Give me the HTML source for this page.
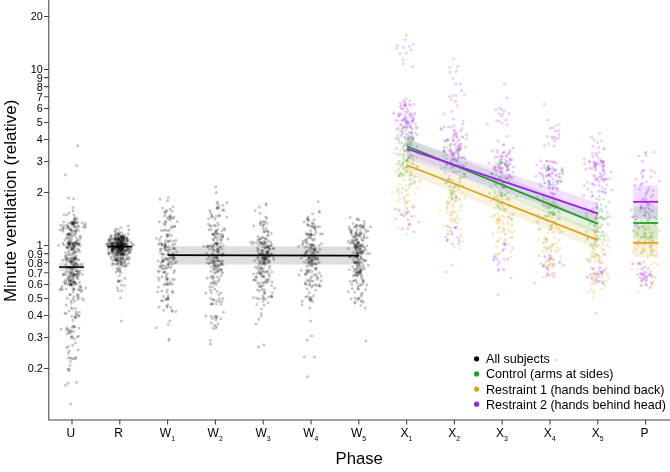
<!DOCTYPE html>
<html><head><meta charset="utf-8"><title>Minute ventilation by phase</title>
<style>
html,body{margin:0;padding:0;background:#fff}
svg{display:block;font-family:"Liberation Sans",Arial,Helvetica,sans-serif;fill:#000}
</style></head>
<body>
<svg width="670" height="472" viewBox="0 0 670 472">
<rect width="670" height="472" fill="#fff"/>
<defs><filter id="b" x="-5%" y="-5%" width="110%" height="110%"><feGaussianBlur stdDeviation="0.4"/></filter></defs>
<g filter="url(#b)">
<g fill="#000" fill-opacity="0.17" stroke="#000" stroke-opacity="0.2" stroke-width="0.6">
<circle cx="123.5" cy="247.2" r="1.2"/><circle cx="214.4" cy="325.2" r="1.2"/><circle cx="264.0" cy="223.7" r="1.2"/><circle cx="262.7" cy="226.0" r="1.2"/><circle cx="311.7" cy="336.0" r="1.2"/><circle cx="258.4" cy="253.1" r="1.2"/><circle cx="267.7" cy="231.5" r="1.2"/><circle cx="74.9" cy="222.7" r="1.2"/><circle cx="256.8" cy="298.2" r="1.2"/><circle cx="261.3" cy="313.4" r="1.2"/><circle cx="120.3" cy="246.4" r="1.2"/><circle cx="310.6" cy="233.8" r="1.2"/><circle cx="78.9" cy="243.9" r="1.2"/><circle cx="167.4" cy="230.7" r="1.2"/><circle cx="307.0" cy="243.0" r="1.2"/><circle cx="213.1" cy="234.3" r="1.2"/><circle cx="302.5" cy="244.7" r="1.2"/><circle cx="219.4" cy="237.3" r="1.2"/><circle cx="359.3" cy="267.6" r="1.2"/><circle cx="360.8" cy="269.0" r="1.2"/><circle cx="72.9" cy="275.5" r="1.2"/><circle cx="168.8" cy="241.3" r="1.2"/><circle cx="258.0" cy="236.7" r="1.2"/><circle cx="176.4" cy="262.0" r="1.2"/><circle cx="312.5" cy="213.8" r="1.2"/><circle cx="216.9" cy="203.4" r="1.2"/><circle cx="354.7" cy="236.7" r="1.2"/><circle cx="262.9" cy="282.5" r="1.2"/><circle cx="221.1" cy="269.1" r="1.2"/><circle cx="163.7" cy="310.3" r="1.2"/><circle cx="265.7" cy="272.0" r="1.2"/><circle cx="358.7" cy="265.5" r="1.2"/><circle cx="263.4" cy="268.4" r="1.2"/><circle cx="270.0" cy="249.2" r="1.2"/><circle cx="313.6" cy="295.7" r="1.2"/><circle cx="130.8" cy="242.3" r="1.2"/><circle cx="310.1" cy="251.2" r="1.2"/><circle cx="305.4" cy="255.5" r="1.2"/><circle cx="75.1" cy="258.9" r="1.2"/><circle cx="364.7" cy="248.4" r="1.2"/><circle cx="119.8" cy="248.5" r="1.2"/><circle cx="262.9" cy="296.0" r="1.2"/><circle cx="265.2" cy="258.9" r="1.2"/><circle cx="309.0" cy="258.9" r="1.2"/><circle cx="162.3" cy="265.5" r="1.2"/><circle cx="221.3" cy="264.1" r="1.2"/><circle cx="66.2" cy="305.0" r="1.2"/><circle cx="307.1" cy="288.9" r="1.2"/><circle cx="262.5" cy="237.2" r="1.2"/><circle cx="212.3" cy="246.5" r="1.2"/><circle cx="305.5" cy="274.7" r="1.2"/><circle cx="308.7" cy="220.8" r="1.2"/><circle cx="363.1" cy="227.0" r="1.2"/><circle cx="314.1" cy="249.9" r="1.2"/><circle cx="121.4" cy="237.3" r="1.2"/><circle cx="115.8" cy="229.0" r="1.2"/><circle cx="215.5" cy="231.2" r="1.2"/><circle cx="68.9" cy="234.0" r="1.2"/><circle cx="71.2" cy="330.4" r="1.2"/><circle cx="167.6" cy="235.8" r="1.2"/><circle cx="122.5" cy="237.2" r="1.2"/><circle cx="124.7" cy="235.2" r="1.2"/><circle cx="318.2" cy="201.6" r="1.2"/><circle cx="67.2" cy="333.9" r="1.2"/><circle cx="121.8" cy="250.6" r="1.2"/><circle cx="316.7" cy="276.7" r="1.2"/><circle cx="215.4" cy="233.0" r="1.2"/><circle cx="70.3" cy="357.9" r="1.2"/><circle cx="113.1" cy="248.5" r="1.2"/><circle cx="78.9" cy="259.9" r="1.2"/><circle cx="360.8" cy="305.6" r="1.2"/><circle cx="73.0" cy="207.6" r="1.2"/><circle cx="75.4" cy="308.3" r="1.2"/><circle cx="316.5" cy="285.4" r="1.2"/><circle cx="121.8" cy="252.1" r="1.2"/><circle cx="223.4" cy="312.2" r="1.2"/><circle cx="108.8" cy="246.8" r="1.2"/><circle cx="359.7" cy="244.8" r="1.2"/><circle cx="312.8" cy="260.7" r="1.2"/><circle cx="167.9" cy="298.3" r="1.2"/><circle cx="216.3" cy="268.3" r="1.2"/><circle cx="70.8" cy="235.3" r="1.2"/><circle cx="119.9" cy="240.2" r="1.2"/><circle cx="62.9" cy="243.2" r="1.2"/><circle cx="311.3" cy="259.8" r="1.2"/><circle cx="71.1" cy="331.6" r="1.2"/><circle cx="123.9" cy="238.8" r="1.2"/><circle cx="114.5" cy="235.1" r="1.2"/><circle cx="355.3" cy="302.1" r="1.2"/><circle cx="362.3" cy="259.1" r="1.2"/><circle cx="265.0" cy="221.5" r="1.2"/><circle cx="79.3" cy="242.8" r="1.2"/><circle cx="64.9" cy="313.1" r="1.2"/><circle cx="263.4" cy="261.4" r="1.2"/><circle cx="124.6" cy="248.4" r="1.2"/><circle cx="268.9" cy="261.1" r="1.2"/><circle cx="266.3" cy="231.1" r="1.2"/><circle cx="78.5" cy="336.0" r="1.2"/><circle cx="157.7" cy="291.9" r="1.2"/><circle cx="267.6" cy="235.0" r="1.2"/><circle cx="71.7" cy="336.5" r="1.2"/><circle cx="111.0" cy="242.0" r="1.2"/><circle cx="73.5" cy="260.1" r="1.2"/><circle cx="70.0" cy="242.5" r="1.2"/><circle cx="358.6" cy="242.1" r="1.2"/><circle cx="115.4" cy="241.8" r="1.2"/><circle cx="309.5" cy="265.8" r="1.2"/><circle cx="215.7" cy="266.2" r="1.2"/><circle cx="272.4" cy="292.7" r="1.2"/><circle cx="357.5" cy="235.9" r="1.2"/><circle cx="173.9" cy="248.1" r="1.2"/><circle cx="303.3" cy="241.0" r="1.2"/><circle cx="67.4" cy="234.1" r="1.2"/><circle cx="122.3" cy="248.3" r="1.2"/><circle cx="263.4" cy="258.7" r="1.2"/><circle cx="221.9" cy="264.2" r="1.2"/><circle cx="359.0" cy="235.6" r="1.2"/><circle cx="213.6" cy="239.6" r="1.2"/><circle cx="158.9" cy="280.0" r="1.2"/><circle cx="75.6" cy="342.9" r="1.2"/><circle cx="167.3" cy="237.0" r="1.2"/><circle cx="367.3" cy="237.6" r="1.2"/><circle cx="71.2" cy="268.3" r="1.2"/><circle cx="66.6" cy="271.8" r="1.2"/><circle cx="360.4" cy="249.6" r="1.2"/><circle cx="70.3" cy="294.4" r="1.2"/><circle cx="260.9" cy="242.6" r="1.2"/><circle cx="362.9" cy="280.1" r="1.2"/><circle cx="68.8" cy="250.7" r="1.2"/><circle cx="215.0" cy="258.2" r="1.2"/><circle cx="213.3" cy="234.1" r="1.2"/><circle cx="111.9" cy="249.9" r="1.2"/><circle cx="348.2" cy="291.6" r="1.2"/><circle cx="171.1" cy="217.9" r="1.2"/><circle cx="118.5" cy="239.0" r="1.2"/><circle cx="127.6" cy="249.1" r="1.2"/><circle cx="117.4" cy="233.4" r="1.2"/><circle cx="259.0" cy="299.0" r="1.2"/><circle cx="77.0" cy="278.0" r="1.2"/><circle cx="74.1" cy="289.6" r="1.2"/><circle cx="121.6" cy="247.9" r="1.2"/><circle cx="355.7" cy="234.1" r="1.2"/><circle cx="308.9" cy="262.2" r="1.2"/><circle cx="74.4" cy="223.0" r="1.2"/><circle cx="215.9" cy="284.4" r="1.2"/><circle cx="126.8" cy="258.5" r="1.2"/><circle cx="118.7" cy="238.6" r="1.2"/><circle cx="315.6" cy="290.3" r="1.2"/><circle cx="258.8" cy="262.8" r="1.2"/><circle cx="303.1" cy="243.2" r="1.2"/><circle cx="69.1" cy="330.7" r="1.2"/><circle cx="174.5" cy="270.5" r="1.2"/><circle cx="317.2" cy="279.5" r="1.2"/><circle cx="311.8" cy="260.2" r="1.2"/><circle cx="266.7" cy="218.2" r="1.2"/><circle cx="167.9" cy="250.7" r="1.2"/><circle cx="350.1" cy="243.2" r="1.2"/><circle cx="77.3" cy="337.1" r="1.2"/><circle cx="355.5" cy="274.9" r="1.2"/><circle cx="361.7" cy="262.8" r="1.2"/><circle cx="63.9" cy="245.0" r="1.2"/><circle cx="130.9" cy="248.8" r="1.2"/><circle cx="256.1" cy="280.5" r="1.2"/><circle cx="72.9" cy="278.4" r="1.2"/><circle cx="317.0" cy="263.7" r="1.2"/><circle cx="113.7" cy="243.3" r="1.2"/><circle cx="314.6" cy="249.8" r="1.2"/><circle cx="267.2" cy="270.9" r="1.2"/><circle cx="262.1" cy="289.6" r="1.2"/><circle cx="76.8" cy="283.7" r="1.2"/><circle cx="124.6" cy="250.3" r="1.2"/><circle cx="314.5" cy="357.0" r="1.2"/><circle cx="72.8" cy="244.2" r="1.2"/><circle cx="118.1" cy="249.7" r="1.2"/><circle cx="314.2" cy="227.2" r="1.2"/><circle cx="71.0" cy="271.6" r="1.2"/><circle cx="121.5" cy="239.9" r="1.2"/><circle cx="72.4" cy="257.6" r="1.2"/><circle cx="355.1" cy="244.9" r="1.2"/><circle cx="73.0" cy="211.0" r="1.2"/><circle cx="207.7" cy="263.0" r="1.2"/><circle cx="116.4" cy="255.2" r="1.2"/><circle cx="361.4" cy="285.0" r="1.2"/><circle cx="217.0" cy="234.0" r="1.2"/><circle cx="110.1" cy="240.6" r="1.2"/><circle cx="78.1" cy="278.7" r="1.2"/><circle cx="212.8" cy="283.0" r="1.2"/><circle cx="361.8" cy="228.0" r="1.2"/><circle cx="313.8" cy="245.1" r="1.2"/><circle cx="216.3" cy="237.3" r="1.2"/><circle cx="216.2" cy="230.5" r="1.2"/><circle cx="162.0" cy="276.9" r="1.2"/><circle cx="74.7" cy="225.8" r="1.2"/><circle cx="69.2" cy="276.2" r="1.2"/><circle cx="124.4" cy="262.4" r="1.2"/><circle cx="127.6" cy="249.8" r="1.2"/><circle cx="108.8" cy="241.5" r="1.2"/><circle cx="213.8" cy="262.6" r="1.2"/><circle cx="304.5" cy="262.3" r="1.2"/><circle cx="352.3" cy="288.8" r="1.2"/><circle cx="357.3" cy="254.1" r="1.2"/><circle cx="164.1" cy="284.9" r="1.2"/><circle cx="217.4" cy="239.7" r="1.2"/><circle cx="120.7" cy="242.7" r="1.2"/><circle cx="73.4" cy="245.5" r="1.2"/><circle cx="311.8" cy="271.7" r="1.2"/><circle cx="164.7" cy="265.8" r="1.2"/><circle cx="315.5" cy="248.7" r="1.2"/><circle cx="264.9" cy="242.1" r="1.2"/><circle cx="118.8" cy="247.7" r="1.2"/><circle cx="356.1" cy="249.4" r="1.2"/><circle cx="73.5" cy="277.6" r="1.2"/><circle cx="319.1" cy="245.6" r="1.2"/><circle cx="363.7" cy="251.1" r="1.2"/><circle cx="354.4" cy="271.6" r="1.2"/><circle cx="122.2" cy="244.6" r="1.2"/><circle cx="120.5" cy="238.8" r="1.2"/><circle cx="365.7" cy="249.9" r="1.2"/><circle cx="70.9" cy="274.8" r="1.2"/><circle cx="360.2" cy="271.8" r="1.2"/><circle cx="166.2" cy="210.8" r="1.2"/><circle cx="68.4" cy="346.6" r="1.2"/><circle cx="72.4" cy="236.4" r="1.2"/><circle cx="172.5" cy="279.6" r="1.2"/><circle cx="74.3" cy="301.2" r="1.2"/><circle cx="354.8" cy="303.0" r="1.2"/><circle cx="212.4" cy="217.3" r="1.2"/><circle cx="113.7" cy="244.4" r="1.2"/><circle cx="72.6" cy="258.0" r="1.2"/><circle cx="76.6" cy="276.6" r="1.2"/><circle cx="306.0" cy="242.0" r="1.2"/><circle cx="123.8" cy="237.0" r="1.2"/><circle cx="213.5" cy="300.0" r="1.2"/><circle cx="216.5" cy="326.5" r="1.2"/><circle cx="216.6" cy="256.9" r="1.2"/><circle cx="109.1" cy="239.9" r="1.2"/><circle cx="82.2" cy="298.6" r="1.2"/><circle cx="172.0" cy="211.3" r="1.2"/><circle cx="117.4" cy="256.2" r="1.2"/><circle cx="121.0" cy="237.3" r="1.2"/><circle cx="75.8" cy="244.6" r="1.2"/><circle cx="319.4" cy="272.9" r="1.2"/><circle cx="165.8" cy="258.1" r="1.2"/><circle cx="357.1" cy="255.4" r="1.2"/><circle cx="165.7" cy="298.8" r="1.2"/><circle cx="69.8" cy="294.8" r="1.2"/><circle cx="69.1" cy="227.6" r="1.2"/><circle cx="112.6" cy="246.0" r="1.2"/><circle cx="161.3" cy="263.4" r="1.2"/><circle cx="75.7" cy="232.5" r="1.2"/><circle cx="270.2" cy="246.4" r="1.2"/><circle cx="112.2" cy="251.5" r="1.2"/><circle cx="121.4" cy="245.8" r="1.2"/><circle cx="85.7" cy="288.0" r="1.2"/><circle cx="262.0" cy="257.9" r="1.2"/><circle cx="114.3" cy="245.7" r="1.2"/><circle cx="319.0" cy="286.1" r="1.2"/><circle cx="205.9" cy="315.8" r="1.2"/><circle cx="121.0" cy="251.7" r="1.2"/><circle cx="76.5" cy="271.0" r="1.2"/><circle cx="123.1" cy="247.1" r="1.2"/><circle cx="213.6" cy="277.2" r="1.2"/><circle cx="355.6" cy="246.8" r="1.2"/><circle cx="120.7" cy="236.9" r="1.2"/><circle cx="165.3" cy="229.9" r="1.2"/><circle cx="126.9" cy="244.8" r="1.2"/><circle cx="82.4" cy="274.5" r="1.2"/><circle cx="260.2" cy="262.8" r="1.2"/><circle cx="321.1" cy="276.1" r="1.2"/><circle cx="211.2" cy="229.6" r="1.2"/><circle cx="365.4" cy="308.0" r="1.2"/><circle cx="168.1" cy="299.1" r="1.2"/><circle cx="168.2" cy="241.6" r="1.2"/><circle cx="172.3" cy="284.1" r="1.2"/><circle cx="119.9" cy="252.8" r="1.2"/><circle cx="110.4" cy="236.8" r="1.2"/><circle cx="66.8" cy="214.9" r="1.2"/><circle cx="170.9" cy="267.7" r="1.2"/><circle cx="307.8" cy="296.5" r="1.2"/><circle cx="253.5" cy="242.2" r="1.2"/><circle cx="309.8" cy="307.9" r="1.2"/><circle cx="264.2" cy="289.5" r="1.2"/><circle cx="117.5" cy="288.0" r="1.2"/><circle cx="64.9" cy="240.0" r="1.2"/><circle cx="353.1" cy="281.3" r="1.2"/><circle cx="75.4" cy="234.2" r="1.2"/><circle cx="260.8" cy="242.8" r="1.2"/><circle cx="119.2" cy="243.5" r="1.2"/><circle cx="69.1" cy="234.6" r="1.2"/><circle cx="125.9" cy="247.0" r="1.2"/><circle cx="220.5" cy="234.2" r="1.2"/><circle cx="213.3" cy="254.6" r="1.2"/><circle cx="216.7" cy="243.6" r="1.2"/><circle cx="221.0" cy="292.9" r="1.2"/><circle cx="359.8" cy="248.3" r="1.2"/><circle cx="71.5" cy="230.3" r="1.2"/><circle cx="321.2" cy="280.9" r="1.2"/><circle cx="206.7" cy="253.5" r="1.2"/><circle cx="260.5" cy="221.8" r="1.2"/><circle cx="66.7" cy="261.4" r="1.2"/><circle cx="350.1" cy="281.6" r="1.2"/><circle cx="119.5" cy="250.5" r="1.2"/><circle cx="73.3" cy="243.4" r="1.2"/><circle cx="214.6" cy="316.5" r="1.2"/><circle cx="117.6" cy="270.5" r="1.2"/><circle cx="169.5" cy="249.4" r="1.2"/><circle cx="217.4" cy="276.9" r="1.2"/><circle cx="358.3" cy="289.2" r="1.2"/><circle cx="210.2" cy="212.7" r="1.2"/><circle cx="354.9" cy="236.4" r="1.2"/><circle cx="164.8" cy="245.1" r="1.2"/><circle cx="359.2" cy="273.9" r="1.2"/><circle cx="212.8" cy="247.9" r="1.2"/><circle cx="119.6" cy="254.1" r="1.2"/><circle cx="118.0" cy="239.5" r="1.2"/><circle cx="122.9" cy="264.3" r="1.2"/><circle cx="360.4" cy="249.6" r="1.2"/><circle cx="77.1" cy="264.6" r="1.2"/><circle cx="360.3" cy="233.4" r="1.2"/><circle cx="73.9" cy="274.8" r="1.2"/><circle cx="174.1" cy="217.1" r="1.2"/><circle cx="320.0" cy="249.4" r="1.2"/><circle cx="160.0" cy="199.3" r="1.2"/><circle cx="307.4" cy="280.2" r="1.2"/><circle cx="352.7" cy="267.0" r="1.2"/><circle cx="354.4" cy="240.7" r="1.2"/><circle cx="122.1" cy="249.0" r="1.2"/><circle cx="168.7" cy="254.0" r="1.2"/><circle cx="216.1" cy="264.5" r="1.2"/><circle cx="122.0" cy="237.4" r="1.2"/><circle cx="269.7" cy="255.5" r="1.2"/><circle cx="266.2" cy="247.1" r="1.2"/><circle cx="360.7" cy="237.2" r="1.2"/><circle cx="69.9" cy="237.3" r="1.2"/><circle cx="349.5" cy="229.3" r="1.2"/><circle cx="120.6" cy="263.2" r="1.2"/><circle cx="365.5" cy="289.7" r="1.2"/><circle cx="168.1" cy="297.5" r="1.2"/><circle cx="163.2" cy="296.5" r="1.2"/><circle cx="356.9" cy="282.8" r="1.2"/><circle cx="315.6" cy="257.0" r="1.2"/><circle cx="223.1" cy="205.2" r="1.2"/><circle cx="356.1" cy="235.0" r="1.2"/><circle cx="259.2" cy="273.0" r="1.2"/><circle cx="220.7" cy="243.2" r="1.2"/><circle cx="68.8" cy="243.8" r="1.2"/><circle cx="128.1" cy="247.4" r="1.2"/><circle cx="76.0" cy="259.0" r="1.2"/><circle cx="114.8" cy="250.0" r="1.2"/><circle cx="219.3" cy="278.9" r="1.2"/><circle cx="209.9" cy="225.8" r="1.2"/><circle cx="314.8" cy="259.4" r="1.2"/><circle cx="314.3" cy="224.6" r="1.2"/><circle cx="73.9" cy="265.3" r="1.2"/><circle cx="305.8" cy="253.1" r="1.2"/><circle cx="314.2" cy="219.7" r="1.2"/><circle cx="126.7" cy="241.0" r="1.2"/><circle cx="258.5" cy="249.5" r="1.2"/><circle cx="360.7" cy="272.9" r="1.2"/><circle cx="123.2" cy="236.8" r="1.2"/><circle cx="314.6" cy="248.8" r="1.2"/><circle cx="71.9" cy="247.6" r="1.2"/><circle cx="263.8" cy="231.8" r="1.2"/><circle cx="298.7" cy="246.2" r="1.2"/><circle cx="306.5" cy="273.2" r="1.2"/><circle cx="125.9" cy="250.7" r="1.2"/><circle cx="218.1" cy="253.5" r="1.2"/><circle cx="113.4" cy="248.8" r="1.2"/><circle cx="73.4" cy="222.0" r="1.2"/><circle cx="165.9" cy="268.4" r="1.2"/><circle cx="349.6" cy="257.2" r="1.2"/><circle cx="357.0" cy="257.5" r="1.2"/><circle cx="261.6" cy="263.6" r="1.2"/><circle cx="68.9" cy="241.4" r="1.2"/><circle cx="121.2" cy="243.9" r="1.2"/><circle cx="223.3" cy="245.4" r="1.2"/><circle cx="314.3" cy="274.7" r="1.2"/><circle cx="81.9" cy="290.2" r="1.2"/><circle cx="161.1" cy="236.9" r="1.2"/><circle cx="260.5" cy="273.0" r="1.2"/><circle cx="78.7" cy="271.2" r="1.2"/><circle cx="78.9" cy="327.9" r="1.2"/><circle cx="362.1" cy="244.4" r="1.2"/><circle cx="252.4" cy="244.2" r="1.2"/><circle cx="120.9" cy="248.6" r="1.2"/><circle cx="164.1" cy="268.4" r="1.2"/><circle cx="310.9" cy="253.6" r="1.2"/><circle cx="260.7" cy="254.4" r="1.2"/><circle cx="62.5" cy="229.6" r="1.2"/><circle cx="355.2" cy="240.4" r="1.2"/><circle cx="118.3" cy="243.0" r="1.2"/><circle cx="257.9" cy="240.1" r="1.2"/><circle cx="354.6" cy="227.1" r="1.2"/><circle cx="171.8" cy="226.8" r="1.2"/><circle cx="355.1" cy="246.9" r="1.2"/><circle cx="115.1" cy="230.9" r="1.2"/><circle cx="69.4" cy="281.0" r="1.2"/><circle cx="253.5" cy="297.5" r="1.2"/><circle cx="308.9" cy="257.4" r="1.2"/><circle cx="214.0" cy="281.2" r="1.2"/><circle cx="75.3" cy="247.5" r="1.2"/><circle cx="214.3" cy="225.2" r="1.2"/><circle cx="73.6" cy="244.0" r="1.2"/><circle cx="222.6" cy="235.9" r="1.2"/><circle cx="118.2" cy="241.7" r="1.2"/><circle cx="173.7" cy="241.1" r="1.2"/><circle cx="173.1" cy="260.1" r="1.2"/><circle cx="119.9" cy="250.8" r="1.2"/><circle cx="177.1" cy="221.5" r="1.2"/><circle cx="158.2" cy="261.1" r="1.2"/><circle cx="160.9" cy="249.6" r="1.2"/><circle cx="310.3" cy="247.1" r="1.2"/><circle cx="112.3" cy="249.1" r="1.2"/><circle cx="70.4" cy="280.1" r="1.2"/><circle cx="312.6" cy="247.8" r="1.2"/><circle cx="271.5" cy="296.5" r="1.2"/><circle cx="268.6" cy="279.5" r="1.2"/><circle cx="301.2" cy="258.1" r="1.2"/><circle cx="221.0" cy="304.3" r="1.2"/><circle cx="77.9" cy="276.1" r="1.2"/><circle cx="221.7" cy="301.5" r="1.2"/><circle cx="121.8" cy="242.8" r="1.2"/><circle cx="123.5" cy="238.9" r="1.2"/><circle cx="259.2" cy="245.1" r="1.2"/><circle cx="112.9" cy="247.0" r="1.2"/><circle cx="313.6" cy="252.0" r="1.2"/><circle cx="214.7" cy="234.9" r="1.2"/><circle cx="313.3" cy="263.8" r="1.2"/><circle cx="79.9" cy="285.6" r="1.2"/><circle cx="309.3" cy="292.8" r="1.2"/><circle cx="255.4" cy="267.1" r="1.2"/><circle cx="129.9" cy="253.0" r="1.2"/><circle cx="80.4" cy="236.3" r="1.2"/><circle cx="363.6" cy="281.6" r="1.2"/><circle cx="71.3" cy="222.8" r="1.2"/><circle cx="121.9" cy="247.4" r="1.2"/><circle cx="163.4" cy="230.5" r="1.2"/><circle cx="222.8" cy="254.9" r="1.2"/><circle cx="162.1" cy="261.8" r="1.2"/><circle cx="312.4" cy="223.8" r="1.2"/><circle cx="354.8" cy="275.3" r="1.2"/><circle cx="258.8" cy="319.3" r="1.2"/><circle cx="269.2" cy="256.2" r="1.2"/><circle cx="367.2" cy="253.5" r="1.2"/><circle cx="165.4" cy="250.0" r="1.2"/><circle cx="167.5" cy="200.8" r="1.2"/><circle cx="118.3" cy="260.7" r="1.2"/><circle cx="309.7" cy="269.9" r="1.2"/><circle cx="316.0" cy="274.6" r="1.2"/><circle cx="117.5" cy="245.0" r="1.2"/><circle cx="79.6" cy="290.0" r="1.2"/><circle cx="271.9" cy="271.8" r="1.2"/><circle cx="69.9" cy="277.2" r="1.2"/><circle cx="311.8" cy="261.3" r="1.2"/><circle cx="161.1" cy="230.4" r="1.2"/><circle cx="75.2" cy="258.4" r="1.2"/><circle cx="309.9" cy="297.6" r="1.2"/><circle cx="173.3" cy="254.3" r="1.2"/><circle cx="310.4" cy="278.7" r="1.2"/><circle cx="111.9" cy="250.8" r="1.2"/><circle cx="119.8" cy="254.9" r="1.2"/><circle cx="167.1" cy="234.5" r="1.2"/><circle cx="73.0" cy="291.8" r="1.2"/><circle cx="163.7" cy="254.4" r="1.2"/><circle cx="68.9" cy="332.2" r="1.2"/><circle cx="357.7" cy="242.9" r="1.2"/><circle cx="129.6" cy="251.8" r="1.2"/><circle cx="212.6" cy="278.6" r="1.2"/><circle cx="264.5" cy="260.4" r="1.2"/><circle cx="358.1" cy="243.9" r="1.2"/><circle cx="68.3" cy="280.3" r="1.2"/><circle cx="162.6" cy="208.1" r="1.2"/><circle cx="123.8" cy="241.2" r="1.2"/><circle cx="118.3" cy="261.6" r="1.2"/><circle cx="159.6" cy="239.7" r="1.2"/><circle cx="254.4" cy="280.1" r="1.2"/><circle cx="72.5" cy="249.0" r="1.2"/><circle cx="213.5" cy="260.7" r="1.2"/><circle cx="113.2" cy="252.7" r="1.2"/><circle cx="109.5" cy="247.8" r="1.2"/><circle cx="267.6" cy="280.0" r="1.2"/><circle cx="260.2" cy="213.5" r="1.2"/><circle cx="121.9" cy="245.2" r="1.2"/><circle cx="305.8" cy="297.0" r="1.2"/><circle cx="173.1" cy="206.7" r="1.2"/><circle cx="116.7" cy="234.3" r="1.2"/><circle cx="173.8" cy="272.7" r="1.2"/><circle cx="355.3" cy="249.2" r="1.2"/><circle cx="210.9" cy="277.0" r="1.2"/><circle cx="317.8" cy="259.7" r="1.2"/><circle cx="118.6" cy="245.4" r="1.2"/><circle cx="362.2" cy="293.0" r="1.2"/><circle cx="67.4" cy="258.5" r="1.2"/><circle cx="263.8" cy="258.6" r="1.2"/><circle cx="318.1" cy="252.3" r="1.2"/><circle cx="113.8" cy="247.3" r="1.2"/><circle cx="121.5" cy="321.0" r="1.2"/><circle cx="356.6" cy="219.6" r="1.2"/><circle cx="123.6" cy="257.2" r="1.2"/><circle cx="263.9" cy="298.0" r="1.2"/><circle cx="349.2" cy="227.0" r="1.2"/><circle cx="122.7" cy="249.0" r="1.2"/><circle cx="361.9" cy="239.8" r="1.2"/><circle cx="214.6" cy="273.0" r="1.2"/><circle cx="110.9" cy="257.1" r="1.2"/><circle cx="255.2" cy="210.5" r="1.2"/><circle cx="356.6" cy="273.3" r="1.2"/><circle cx="114.7" cy="238.3" r="1.2"/><circle cx="109.4" cy="242.8" r="1.2"/><circle cx="123.1" cy="260.2" r="1.2"/><circle cx="115.7" cy="249.6" r="1.2"/><circle cx="264.9" cy="256.1" r="1.2"/><circle cx="71.5" cy="283.5" r="1.2"/><circle cx="69.5" cy="244.4" r="1.2"/><circle cx="215.3" cy="226.0" r="1.2"/><circle cx="173.5" cy="258.6" r="1.2"/><circle cx="71.1" cy="307.4" r="1.2"/><circle cx="361.7" cy="253.6" r="1.2"/><circle cx="115.0" cy="254.9" r="1.2"/><circle cx="70.1" cy="261.2" r="1.2"/><circle cx="319.2" cy="284.8" r="1.2"/><circle cx="311.6" cy="234.9" r="1.2"/><circle cx="355.8" cy="280.2" r="1.2"/><circle cx="273.5" cy="248.9" r="1.2"/><circle cx="116.7" cy="260.4" r="1.2"/><circle cx="168.4" cy="197.6" r="1.2"/><circle cx="119.2" cy="244.5" r="1.2"/><circle cx="211.3" cy="226.0" r="1.2"/><circle cx="264.1" cy="262.7" r="1.2"/><circle cx="71.9" cy="249.0" r="1.2"/><circle cx="68.8" cy="252.9" r="1.2"/><circle cx="266.2" cy="251.2" r="1.2"/><circle cx="215.8" cy="186.9" r="1.2"/><circle cx="167.1" cy="280.6" r="1.2"/><circle cx="221.7" cy="240.0" r="1.2"/><circle cx="307.3" cy="340.0" r="1.2"/><circle cx="69.7" cy="254.8" r="1.2"/><circle cx="119.8" cy="268.8" r="1.2"/><circle cx="262.5" cy="246.5" r="1.2"/><circle cx="168.3" cy="324.6" r="1.2"/><circle cx="352.0" cy="242.6" r="1.2"/><circle cx="262.8" cy="250.1" r="1.2"/><circle cx="302.1" cy="301.3" r="1.2"/><circle cx="115.5" cy="258.4" r="1.2"/><circle cx="258.9" cy="285.8" r="1.2"/><circle cx="357.2" cy="250.9" r="1.2"/><circle cx="210.9" cy="283.3" r="1.2"/><circle cx="71.7" cy="269.5" r="1.2"/><circle cx="163.4" cy="259.9" r="1.2"/><circle cx="73.6" cy="245.8" r="1.2"/><circle cx="271.2" cy="233.2" r="1.2"/><circle cx="69.0" cy="283.2" r="1.2"/><circle cx="73.0" cy="326.0" r="1.2"/><circle cx="65.6" cy="283.2" r="1.2"/><circle cx="217.4" cy="208.0" r="1.2"/><circle cx="119.1" cy="251.2" r="1.2"/><circle cx="123.6" cy="243.5" r="1.2"/><circle cx="309.0" cy="257.0" r="1.2"/><circle cx="261.4" cy="308.9" r="1.2"/><circle cx="117.1" cy="244.5" r="1.2"/><circle cx="311.2" cy="248.1" r="1.2"/><circle cx="126.6" cy="250.1" r="1.2"/><circle cx="73.5" cy="259.8" r="1.2"/><circle cx="118.7" cy="243.7" r="1.2"/><circle cx="75.0" cy="326.8" r="1.2"/><circle cx="117.8" cy="245.8" r="1.2"/><circle cx="168.8" cy="246.8" r="1.2"/><circle cx="216.2" cy="261.1" r="1.2"/><circle cx="117.2" cy="251.8" r="1.2"/><circle cx="362.9" cy="251.5" r="1.2"/><circle cx="72.7" cy="345.2" r="1.2"/><circle cx="265.9" cy="280.0" r="1.2"/><circle cx="112.5" cy="249.7" r="1.2"/><circle cx="123.0" cy="243.0" r="1.2"/><circle cx="304.1" cy="222.1" r="1.2"/><circle cx="117.4" cy="246.7" r="1.2"/><circle cx="172.4" cy="257.3" r="1.2"/><circle cx="266.1" cy="282.2" r="1.2"/><circle cx="74.4" cy="245.3" r="1.2"/><circle cx="121.7" cy="232.8" r="1.2"/><circle cx="168.7" cy="219.3" r="1.2"/><circle cx="70.3" cy="234.1" r="1.2"/><circle cx="70.4" cy="361.5" r="1.2"/><circle cx="218.8" cy="294.6" r="1.2"/><circle cx="268.3" cy="251.2" r="1.2"/><circle cx="264.5" cy="231.7" r="1.2"/><circle cx="361.4" cy="278.2" r="1.2"/><circle cx="75.9" cy="358.5" r="1.2"/><circle cx="72.9" cy="288.8" r="1.2"/><circle cx="78.1" cy="350.0" r="1.2"/><circle cx="216.2" cy="216.3" r="1.2"/><circle cx="218.6" cy="281.1" r="1.2"/><circle cx="121.3" cy="244.4" r="1.2"/><circle cx="360.8" cy="275.1" r="1.2"/><circle cx="73.7" cy="268.8" r="1.2"/><circle cx="156.5" cy="238.3" r="1.2"/><circle cx="169.4" cy="230.3" r="1.2"/><circle cx="122.2" cy="248.1" r="1.2"/><circle cx="118.2" cy="254.7" r="1.2"/><circle cx="222.4" cy="254.8" r="1.2"/><circle cx="121.4" cy="264.7" r="1.2"/><circle cx="73.6" cy="198.7" r="1.2"/><circle cx="309.1" cy="244.1" r="1.2"/><circle cx="123.5" cy="245.6" r="1.2"/><circle cx="263.4" cy="254.5" r="1.2"/><circle cx="226.8" cy="217.1" r="1.2"/><circle cx="117.8" cy="235.4" r="1.2"/><circle cx="120.8" cy="254.1" r="1.2"/><circle cx="76.0" cy="262.5" r="1.2"/><circle cx="112.7" cy="263.0" r="1.2"/><circle cx="122.7" cy="241.6" r="1.2"/><circle cx="76.3" cy="251.5" r="1.2"/><circle cx="273.9" cy="259.4" r="1.2"/><circle cx="66.6" cy="259.6" r="1.2"/><circle cx="120.9" cy="240.4" r="1.2"/><circle cx="121.6" cy="258.4" r="1.2"/><circle cx="211.2" cy="323.0" r="1.2"/><circle cx="121.6" cy="290.6" r="1.2"/><circle cx="75.4" cy="275.0" r="1.2"/><circle cx="256.2" cy="277.2" r="1.2"/><circle cx="261.9" cy="269.0" r="1.2"/><circle cx="353.2" cy="223.4" r="1.2"/><circle cx="266.1" cy="258.9" r="1.2"/><circle cx="359.5" cy="270.6" r="1.2"/><circle cx="159.0" cy="307.2" r="1.2"/><circle cx="170.4" cy="219.7" r="1.2"/><circle cx="119.2" cy="235.2" r="1.2"/><circle cx="216.6" cy="243.1" r="1.2"/><circle cx="69.3" cy="370.5" r="1.2"/><circle cx="160.8" cy="267.6" r="1.2"/><circle cx="109.9" cy="244.8" r="1.2"/><circle cx="365.1" cy="229.5" r="1.2"/><circle cx="266.2" cy="228.4" r="1.2"/><circle cx="351.0" cy="231.8" r="1.2"/><circle cx="111.6" cy="250.9" r="1.2"/><circle cx="118.7" cy="238.5" r="1.2"/><circle cx="160.2" cy="252.0" r="1.2"/><circle cx="175.0" cy="244.2" r="1.2"/><circle cx="173.0" cy="253.5" r="1.2"/><circle cx="71.8" cy="250.1" r="1.2"/><circle cx="313.0" cy="281.1" r="1.2"/><circle cx="73.7" cy="219.6" r="1.2"/><circle cx="316.6" cy="251.9" r="1.2"/><circle cx="311.3" cy="234.7" r="1.2"/><circle cx="78.9" cy="245.3" r="1.2"/><circle cx="79.8" cy="282.1" r="1.2"/><circle cx="117.5" cy="259.8" r="1.2"/><circle cx="258.5" cy="271.1" r="1.2"/><circle cx="315.0" cy="250.5" r="1.2"/><circle cx="261.4" cy="238.3" r="1.2"/><circle cx="273.4" cy="257.4" r="1.2"/><circle cx="67.0" cy="247.6" r="1.2"/><circle cx="301.9" cy="304.9" r="1.2"/><circle cx="74.4" cy="231.6" r="1.2"/><circle cx="123.1" cy="247.8" r="1.2"/><circle cx="220.0" cy="246.6" r="1.2"/><circle cx="221.4" cy="261.9" r="1.2"/><circle cx="118.4" cy="239.4" r="1.2"/><circle cx="78.8" cy="226.5" r="1.2"/><circle cx="114.3" cy="264.3" r="1.2"/><circle cx="258.2" cy="256.9" r="1.2"/><circle cx="220.8" cy="318.8" r="1.2"/><circle cx="69.0" cy="369.4" r="1.2"/><circle cx="116.3" cy="243.5" r="1.2"/><circle cx="127.4" cy="242.1" r="1.2"/><circle cx="124.2" cy="285.4" r="1.2"/><circle cx="217.9" cy="265.4" r="1.2"/><circle cx="124.9" cy="251.7" r="1.2"/><circle cx="264.7" cy="282.3" r="1.2"/><circle cx="363.1" cy="253.0" r="1.2"/><circle cx="214.9" cy="237.3" r="1.2"/><circle cx="358.5" cy="272.2" r="1.2"/><circle cx="73.6" cy="331.6" r="1.2"/><circle cx="312.6" cy="285.5" r="1.2"/><circle cx="121.2" cy="249.7" r="1.2"/><circle cx="311.5" cy="276.5" r="1.2"/><circle cx="66.3" cy="313.8" r="1.2"/><circle cx="364.3" cy="238.1" r="1.2"/><circle cx="222.7" cy="237.0" r="1.2"/><circle cx="174.6" cy="226.4" r="1.2"/><circle cx="265.1" cy="244.2" r="1.2"/><circle cx="106.3" cy="244.5" r="1.2"/><circle cx="216.0" cy="319.9" r="1.2"/><circle cx="74.3" cy="281.7" r="1.2"/><circle cx="356.5" cy="238.6" r="1.2"/><circle cx="75.6" cy="283.9" r="1.2"/><circle cx="125.3" cy="260.2" r="1.2"/><circle cx="68.8" cy="244.0" r="1.2"/><circle cx="213.1" cy="328.4" r="1.2"/><circle cx="170.4" cy="284.2" r="1.2"/><circle cx="359.6" cy="225.5" r="1.2"/><circle cx="124.9" cy="278.3" r="1.2"/><circle cx="262.6" cy="264.4" r="1.2"/><circle cx="311.4" cy="238.6" r="1.2"/><circle cx="167.2" cy="235.3" r="1.2"/><circle cx="118.5" cy="281.0" r="1.2"/><circle cx="122.8" cy="245.9" r="1.2"/><circle cx="72.1" cy="273.4" r="1.2"/><circle cx="119.7" cy="249.9" r="1.2"/><circle cx="73.9" cy="282.3" r="1.2"/><circle cx="264.2" cy="242.9" r="1.2"/><circle cx="121.3" cy="243.2" r="1.2"/><circle cx="115.0" cy="247.9" r="1.2"/><circle cx="311.2" cy="264.2" r="1.2"/><circle cx="219.9" cy="260.9" r="1.2"/><circle cx="357.4" cy="268.1" r="1.2"/><circle cx="170.4" cy="216.1" r="1.2"/><circle cx="222.9" cy="298.5" r="1.2"/><circle cx="217.8" cy="243.3" r="1.2"/><circle cx="309.2" cy="248.6" r="1.2"/><circle cx="73.9" cy="248.8" r="1.2"/><circle cx="312.6" cy="222.6" r="1.2"/><circle cx="228.0" cy="239.0" r="1.2"/><circle cx="356.7" cy="225.2" r="1.2"/><circle cx="77.0" cy="294.7" r="1.2"/><circle cx="366.7" cy="284.8" r="1.2"/><circle cx="212.4" cy="262.8" r="1.2"/><circle cx="168.3" cy="295.6" r="1.2"/><circle cx="117.0" cy="268.9" r="1.2"/><circle cx="263.2" cy="270.9" r="1.2"/><circle cx="85.3" cy="227.3" r="1.2"/><circle cx="267.8" cy="282.3" r="1.2"/><circle cx="354.1" cy="262.3" r="1.2"/><circle cx="269.6" cy="262.0" r="1.2"/><circle cx="76.1" cy="263.4" r="1.2"/><circle cx="125.1" cy="244.3" r="1.2"/><circle cx="309.1" cy="225.6" r="1.2"/><circle cx="166.8" cy="292.1" r="1.2"/><circle cx="66.3" cy="329.6" r="1.2"/><circle cx="315.1" cy="259.1" r="1.2"/><circle cx="73.3" cy="224.4" r="1.2"/><circle cx="369.6" cy="253.5" r="1.2"/><circle cx="356.9" cy="247.8" r="1.2"/><circle cx="169.1" cy="263.8" r="1.2"/><circle cx="116.7" cy="251.1" r="1.2"/><circle cx="169.9" cy="320.9" r="1.2"/><circle cx="358.4" cy="259.4" r="1.2"/><circle cx="113.8" cy="241.9" r="1.2"/><circle cx="62.9" cy="231.2" r="1.2"/><circle cx="72.9" cy="253.2" r="1.2"/><circle cx="125.5" cy="244.4" r="1.2"/><circle cx="215.8" cy="243.3" r="1.2"/><circle cx="118.3" cy="252.3" r="1.2"/><circle cx="122.6" cy="250.2" r="1.2"/><circle cx="126.7" cy="245.2" r="1.2"/><circle cx="357.8" cy="242.7" r="1.2"/><circle cx="350.2" cy="256.7" r="1.2"/><circle cx="114.3" cy="248.6" r="1.2"/><circle cx="355.6" cy="269.6" r="1.2"/><circle cx="66.8" cy="237.6" r="1.2"/><circle cx="119.5" cy="248.3" r="1.2"/><circle cx="123.3" cy="254.1" r="1.2"/><circle cx="361.6" cy="294.4" r="1.2"/><circle cx="66.3" cy="288.9" r="1.2"/><circle cx="264.8" cy="258.1" r="1.2"/><circle cx="317.5" cy="226.6" r="1.2"/><circle cx="128.6" cy="263.2" r="1.2"/><circle cx="320.7" cy="234.0" r="1.2"/><circle cx="167.8" cy="254.2" r="1.2"/><circle cx="119.0" cy="248.1" r="1.2"/><circle cx="357.0" cy="266.0" r="1.2"/><circle cx="81.1" cy="287.2" r="1.2"/><circle cx="123.2" cy="243.4" r="1.2"/><circle cx="263.0" cy="221.5" r="1.2"/><circle cx="360.5" cy="262.1" r="1.2"/><circle cx="162.1" cy="260.9" r="1.2"/><circle cx="72.5" cy="247.6" r="1.2"/><circle cx="67.3" cy="246.1" r="1.2"/><circle cx="262.7" cy="255.2" r="1.2"/><circle cx="76.8" cy="313.9" r="1.2"/><circle cx="162.0" cy="244.4" r="1.2"/><circle cx="66.8" cy="225.3" r="1.2"/><circle cx="77.8" cy="244.2" r="1.2"/><circle cx="167.1" cy="274.1" r="1.2"/><circle cx="359.4" cy="260.0" r="1.2"/><circle cx="253.7" cy="225.7" r="1.2"/><circle cx="255.9" cy="324.1" r="1.2"/><circle cx="203.8" cy="246.3" r="1.2"/><circle cx="216.3" cy="318.1" r="1.2"/><circle cx="270.6" cy="241.9" r="1.2"/><circle cx="218.8" cy="251.8" r="1.2"/><circle cx="73.0" cy="275.4" r="1.2"/><circle cx="357.6" cy="272.1" r="1.2"/><circle cx="306.7" cy="251.2" r="1.2"/><circle cx="209.1" cy="257.5" r="1.2"/><circle cx="213.7" cy="257.5" r="1.2"/><circle cx="167.9" cy="278.6" r="1.2"/><circle cx="260.9" cy="268.0" r="1.2"/><circle cx="118.8" cy="281.0" r="1.2"/><circle cx="69.6" cy="245.1" r="1.2"/><circle cx="264.6" cy="257.9" r="1.2"/><circle cx="265.1" cy="299.5" r="1.2"/><circle cx="117.0" cy="246.1" r="1.2"/><circle cx="358.4" cy="242.7" r="1.2"/><circle cx="118.6" cy="252.2" r="1.2"/><circle cx="209.6" cy="249.1" r="1.2"/><circle cx="120.3" cy="245.6" r="1.2"/><circle cx="363.0" cy="246.1" r="1.2"/><circle cx="360.5" cy="230.6" r="1.2"/><circle cx="166.5" cy="278.8" r="1.2"/><circle cx="116.8" cy="244.3" r="1.2"/><circle cx="319.7" cy="212.4" r="1.2"/><circle cx="65.4" cy="385.4" r="1.2"/><circle cx="121.0" cy="257.8" r="1.2"/><circle cx="211.4" cy="292.6" r="1.2"/><circle cx="348.5" cy="248.5" r="1.2"/><circle cx="122.3" cy="248.4" r="1.2"/><circle cx="222.6" cy="272.9" r="1.2"/><circle cx="268.4" cy="240.7" r="1.2"/><circle cx="69.2" cy="350.9" r="1.2"/><circle cx="216.9" cy="316.8" r="1.2"/><circle cx="208.4" cy="224.1" r="1.2"/><circle cx="173.0" cy="218.3" r="1.2"/><circle cx="305.6" cy="240.0" r="1.2"/><circle cx="319.0" cy="211.5" r="1.2"/><circle cx="68.8" cy="247.2" r="1.2"/><circle cx="73.7" cy="296.7" r="1.2"/><circle cx="72.9" cy="222.8" r="1.2"/><circle cx="111.1" cy="244.2" r="1.2"/><circle cx="119.6" cy="270.5" r="1.2"/><circle cx="314.5" cy="235.0" r="1.2"/><circle cx="309.7" cy="285.2" r="1.2"/><circle cx="121.2" cy="246.3" r="1.2"/><circle cx="207.2" cy="278.2" r="1.2"/><circle cx="129.2" cy="257.9" r="1.2"/><circle cx="70.6" cy="261.3" r="1.2"/><circle cx="269.7" cy="268.4" r="1.2"/><circle cx="311.4" cy="244.8" r="1.2"/><circle cx="120.8" cy="227.6" r="1.2"/><circle cx="261.3" cy="254.6" r="1.2"/><circle cx="358.1" cy="288.6" r="1.2"/><circle cx="121.3" cy="254.1" r="1.2"/><circle cx="120.7" cy="242.7" r="1.2"/><circle cx="353.8" cy="255.9" r="1.2"/><circle cx="361.4" cy="252.8" r="1.2"/><circle cx="305.4" cy="282.6" r="1.2"/><circle cx="356.8" cy="239.4" r="1.2"/><circle cx="76.2" cy="315.1" r="1.2"/><circle cx="123.4" cy="244.0" r="1.2"/><circle cx="77.0" cy="244.1" r="1.2"/><circle cx="112.2" cy="250.8" r="1.2"/><circle cx="120.6" cy="250.7" r="1.2"/><circle cx="73.5" cy="254.1" r="1.2"/><circle cx="166.6" cy="247.2" r="1.2"/><circle cx="312.0" cy="262.9" r="1.2"/><circle cx="126.9" cy="240.1" r="1.2"/><circle cx="68.5" cy="198.2" r="1.2"/><circle cx="67.3" cy="298.3" r="1.2"/><circle cx="351.4" cy="230.1" r="1.2"/><circle cx="70.1" cy="333.2" r="1.2"/><circle cx="165.2" cy="272.3" r="1.2"/><circle cx="74.1" cy="327.1" r="1.2"/><circle cx="67.6" cy="255.0" r="1.2"/><circle cx="217.3" cy="291.4" r="1.2"/><circle cx="164.7" cy="212.2" r="1.2"/><circle cx="210.6" cy="290.2" r="1.2"/><circle cx="75.5" cy="217.7" r="1.2"/><circle cx="268.1" cy="246.8" r="1.2"/><circle cx="74.9" cy="242.1" r="1.2"/><circle cx="311.0" cy="234.6" r="1.2"/><circle cx="212.7" cy="318.5" r="1.2"/><circle cx="70.7" cy="284.4" r="1.2"/><circle cx="352.7" cy="239.5" r="1.2"/><circle cx="162.5" cy="257.6" r="1.2"/><circle cx="165.5" cy="283.9" r="1.2"/><circle cx="366.2" cy="231.8" r="1.2"/><circle cx="120.1" cy="246.8" r="1.2"/><circle cx="69.0" cy="213.0" r="1.2"/><circle cx="164.1" cy="271.9" r="1.2"/><circle cx="74.6" cy="264.1" r="1.2"/><circle cx="218.2" cy="266.1" r="1.2"/><circle cx="165.1" cy="224.8" r="1.2"/><circle cx="221.9" cy="237.6" r="1.2"/><circle cx="120.7" cy="250.4" r="1.2"/><circle cx="320.5" cy="286.3" r="1.2"/><circle cx="216.9" cy="244.6" r="1.2"/><circle cx="114.0" cy="247.3" r="1.2"/><circle cx="259.8" cy="282.8" r="1.2"/><circle cx="356.7" cy="240.5" r="1.2"/><circle cx="71.8" cy="263.5" r="1.2"/><circle cx="117.7" cy="246.9" r="1.2"/><circle cx="268.2" cy="231.7" r="1.2"/><circle cx="308.2" cy="216.9" r="1.2"/><circle cx="317.8" cy="258.5" r="1.2"/><circle cx="214.3" cy="261.5" r="1.2"/><circle cx="213.9" cy="262.6" r="1.2"/><circle cx="122.7" cy="248.5" r="1.2"/><circle cx="356.2" cy="261.6" r="1.2"/><circle cx="261.2" cy="316.1" r="1.2"/><circle cx="312.9" cy="257.3" r="1.2"/><circle cx="309.4" cy="262.1" r="1.2"/><circle cx="77.2" cy="228.7" r="1.2"/><circle cx="133.4" cy="245.1" r="1.2"/><circle cx="215.5" cy="243.2" r="1.2"/><circle cx="119.6" cy="257.3" r="1.2"/><circle cx="123.0" cy="248.7" r="1.2"/><circle cx="77.8" cy="225.8" r="1.2"/><circle cx="364.0" cy="237.0" r="1.2"/><circle cx="75.9" cy="230.2" r="1.2"/><circle cx="205.8" cy="293.3" r="1.2"/><circle cx="351.8" cy="284.6" r="1.2"/><circle cx="158.7" cy="244.5" r="1.2"/><circle cx="354.4" cy="269.4" r="1.2"/><circle cx="319.3" cy="262.5" r="1.2"/><circle cx="259.3" cy="260.4" r="1.2"/><circle cx="77.2" cy="219.0" r="1.2"/><circle cx="123.4" cy="246.1" r="1.2"/><circle cx="108.7" cy="253.3" r="1.2"/><circle cx="223.2" cy="253.6" r="1.2"/><circle cx="307.2" cy="219.1" r="1.2"/><circle cx="263.2" cy="285.3" r="1.2"/><circle cx="126.5" cy="238.4" r="1.2"/><circle cx="109.8" cy="252.9" r="1.2"/><circle cx="71.2" cy="303.3" r="1.2"/><circle cx="113.0" cy="249.9" r="1.2"/><circle cx="115.4" cy="238.7" r="1.2"/><circle cx="356.6" cy="252.7" r="1.2"/><circle cx="75.3" cy="317.6" r="1.2"/><circle cx="62.6" cy="260.4" r="1.2"/><circle cx="75.1" cy="256.8" r="1.2"/><circle cx="269.5" cy="249.1" r="1.2"/><circle cx="62.4" cy="289.6" r="1.2"/><circle cx="214.1" cy="245.5" r="1.2"/><circle cx="75.2" cy="242.9" r="1.2"/><circle cx="218.7" cy="205.4" r="1.2"/><circle cx="219.3" cy="215.2" r="1.2"/><circle cx="78.5" cy="295.0" r="1.2"/><circle cx="266.0" cy="203.6" r="1.2"/><circle cx="217.0" cy="208.4" r="1.2"/><circle cx="118.7" cy="245.5" r="1.2"/><circle cx="115.6" cy="238.4" r="1.2"/><circle cx="111.7" cy="244.7" r="1.2"/><circle cx="71.6" cy="259.0" r="1.2"/><circle cx="174.4" cy="279.5" r="1.2"/><circle cx="75.1" cy="258.1" r="1.2"/><circle cx="268.4" cy="247.4" r="1.2"/><circle cx="310.9" cy="261.1" r="1.2"/><circle cx="75.4" cy="317.8" r="1.2"/><circle cx="128.7" cy="240.2" r="1.2"/><circle cx="85.4" cy="223.6" r="1.2"/><circle cx="353.7" cy="243.8" r="1.2"/><circle cx="68.8" cy="268.1" r="1.2"/><circle cx="170.1" cy="282.2" r="1.2"/><circle cx="164.9" cy="242.8" r="1.2"/><circle cx="114.3" cy="245.6" r="1.2"/><circle cx="361.0" cy="301.6" r="1.2"/><circle cx="212.5" cy="253.8" r="1.2"/><circle cx="260.0" cy="253.7" r="1.2"/><circle cx="216.3" cy="300.7" r="1.2"/><circle cx="116.5" cy="251.7" r="1.2"/><circle cx="121.6" cy="255.2" r="1.2"/><circle cx="214.8" cy="289.3" r="1.2"/><circle cx="126.2" cy="250.7" r="1.2"/><circle cx="268.1" cy="260.3" r="1.2"/><circle cx="314.2" cy="257.7" r="1.2"/><circle cx="267.5" cy="253.0" r="1.2"/><circle cx="174.7" cy="263.0" r="1.2"/><circle cx="81.3" cy="264.8" r="1.2"/><circle cx="128.0" cy="248.2" r="1.2"/><circle cx="69.9" cy="365.4" r="1.2"/><circle cx="362.8" cy="283.3" r="1.2"/><circle cx="253.8" cy="279.8" r="1.2"/><circle cx="63.7" cy="282.4" r="1.2"/><circle cx="368.0" cy="230.7" r="1.2"/><circle cx="348.2" cy="241.3" r="1.2"/><circle cx="116.0" cy="242.9" r="1.2"/><circle cx="256.1" cy="276.9" r="1.2"/><circle cx="370.5" cy="226.9" r="1.2"/><circle cx="364.2" cy="221.2" r="1.2"/><circle cx="222.7" cy="210.0" r="1.2"/><circle cx="313.4" cy="252.9" r="1.2"/><circle cx="356.5" cy="245.1" r="1.2"/><circle cx="167.4" cy="290.0" r="1.2"/><circle cx="217.5" cy="257.8" r="1.2"/><circle cx="363.0" cy="280.7" r="1.2"/><circle cx="362.8" cy="226.7" r="1.2"/><circle cx="72.6" cy="266.8" r="1.2"/><circle cx="164.9" cy="246.5" r="1.2"/><circle cx="359.6" cy="285.3" r="1.2"/><circle cx="262.0" cy="258.0" r="1.2"/><circle cx="119.4" cy="232.7" r="1.2"/><circle cx="127.1" cy="238.7" r="1.2"/><circle cx="274.6" cy="288.2" r="1.2"/><circle cx="70.5" cy="404.0" r="1.2"/><circle cx="128.3" cy="248.0" r="1.2"/><circle cx="216.3" cy="316.3" r="1.2"/><circle cx="117.7" cy="262.6" r="1.2"/><circle cx="358.0" cy="286.5" r="1.2"/><circle cx="161.8" cy="291.0" r="1.2"/><circle cx="172.0" cy="311.3" r="1.2"/><circle cx="211.8" cy="214.7" r="1.2"/><circle cx="264.3" cy="237.8" r="1.2"/><circle cx="217.9" cy="234.0" r="1.2"/><circle cx="306.5" cy="239.8" r="1.2"/><circle cx="260.7" cy="267.6" r="1.2"/><circle cx="361.7" cy="269.7" r="1.2"/><circle cx="360.8" cy="270.5" r="1.2"/><circle cx="118.3" cy="243.5" r="1.2"/><circle cx="70.2" cy="284.6" r="1.2"/><circle cx="216.5" cy="282.2" r="1.2"/><circle cx="216.3" cy="232.2" r="1.2"/><circle cx="118.4" cy="245.9" r="1.2"/><circle cx="63.6" cy="228.4" r="1.2"/><circle cx="64.9" cy="259.2" r="1.2"/><circle cx="65.6" cy="281.6" r="1.2"/><circle cx="359.1" cy="220.1" r="1.2"/><circle cx="118.8" cy="240.4" r="1.2"/><circle cx="173.2" cy="248.5" r="1.2"/><circle cx="216.5" cy="303.7" r="1.2"/><circle cx="80.3" cy="245.6" r="1.2"/><circle cx="70.5" cy="243.3" r="1.2"/><circle cx="359.1" cy="254.3" r="1.2"/><circle cx="118.1" cy="258.0" r="1.2"/><circle cx="218.7" cy="270.7" r="1.2"/><circle cx="69.2" cy="311.1" r="1.2"/><circle cx="77.1" cy="240.1" r="1.2"/><circle cx="115.1" cy="247.8" r="1.2"/><circle cx="120.7" cy="272.8" r="1.2"/><circle cx="262.6" cy="298.8" r="1.2"/><circle cx="72.6" cy="230.9" r="1.2"/><circle cx="64.0" cy="214.6" r="1.2"/><circle cx="257.3" cy="247.9" r="1.2"/><circle cx="118.4" cy="281.7" r="1.2"/><circle cx="307.6" cy="263.4" r="1.2"/><circle cx="121.0" cy="262.0" r="1.2"/><circle cx="356.6" cy="272.1" r="1.2"/><circle cx="128.4" cy="234.1" r="1.2"/><circle cx="126.4" cy="254.9" r="1.2"/><circle cx="271.5" cy="254.4" r="1.2"/><circle cx="123.9" cy="254.3" r="1.2"/><circle cx="213.5" cy="244.8" r="1.2"/><circle cx="117.3" cy="244.1" r="1.2"/><circle cx="169.3" cy="339.0" r="1.2"/><circle cx="113.1" cy="242.9" r="1.2"/><circle cx="311.9" cy="245.2" r="1.2"/><circle cx="309.5" cy="283.6" r="1.2"/><circle cx="315.3" cy="263.7" r="1.2"/><circle cx="118.3" cy="253.6" r="1.2"/><circle cx="169.7" cy="217.0" r="1.2"/><circle cx="207.8" cy="245.8" r="1.2"/><circle cx="311.9" cy="226.7" r="1.2"/><circle cx="265.3" cy="264.9" r="1.2"/><circle cx="364.1" cy="234.6" r="1.2"/><circle cx="68.7" cy="357.9" r="1.2"/><circle cx="305.7" cy="273.8" r="1.2"/><circle cx="170.5" cy="240.7" r="1.2"/><circle cx="357.0" cy="246.4" r="1.2"/><circle cx="121.5" cy="240.3" r="1.2"/><circle cx="73.4" cy="224.3" r="1.2"/><circle cx="357.0" cy="255.6" r="1.2"/><circle cx="269.6" cy="266.2" r="1.2"/><circle cx="77.4" cy="296.9" r="1.2"/><circle cx="212.9" cy="250.3" r="1.2"/><circle cx="114.8" cy="239.9" r="1.2"/><circle cx="261.6" cy="242.9" r="1.2"/><circle cx="214.1" cy="269.6" r="1.2"/><circle cx="83.7" cy="300.1" r="1.2"/><circle cx="264.0" cy="241.3" r="1.2"/><circle cx="78.0" cy="299.6" r="1.2"/><circle cx="70.1" cy="261.2" r="1.2"/><circle cx="315.4" cy="264.1" r="1.2"/><circle cx="357.3" cy="246.1" r="1.2"/><circle cx="360.1" cy="272.9" r="1.2"/><circle cx="264.3" cy="262.3" r="1.2"/><circle cx="165.4" cy="221.2" r="1.2"/><circle cx="173.7" cy="256.6" r="1.2"/><circle cx="71.3" cy="222.4" r="1.2"/><circle cx="66.7" cy="274.9" r="1.2"/><circle cx="163.7" cy="272.4" r="1.2"/><circle cx="123.1" cy="259.1" r="1.2"/><circle cx="363.3" cy="264.9" r="1.2"/><circle cx="215.1" cy="219.0" r="1.2"/><circle cx="111.5" cy="237.2" r="1.2"/><circle cx="315.2" cy="230.0" r="1.2"/><circle cx="307.7" cy="218.9" r="1.2"/><circle cx="357.7" cy="255.5" r="1.2"/><circle cx="221.1" cy="275.4" r="1.2"/><circle cx="351.1" cy="231.5" r="1.2"/><circle cx="66.8" cy="228.1" r="1.2"/><circle cx="360.8" cy="271.3" r="1.2"/><circle cx="121.1" cy="243.5" r="1.2"/><circle cx="271.5" cy="296.5" r="1.2"/><circle cx="305.0" cy="283.8" r="1.2"/><circle cx="358.4" cy="253.0" r="1.2"/><circle cx="220.2" cy="247.0" r="1.2"/><circle cx="353.4" cy="275.8" r="1.2"/><circle cx="256.8" cy="304.4" r="1.2"/><circle cx="122.4" cy="248.5" r="1.2"/><circle cx="307.6" cy="270.6" r="1.2"/><circle cx="361.3" cy="252.8" r="1.2"/><circle cx="71.8" cy="268.1" r="1.2"/><circle cx="125.0" cy="266.5" r="1.2"/><circle cx="125.7" cy="243.3" r="1.2"/><circle cx="361.0" cy="258.5" r="1.2"/><circle cx="71.0" cy="230.2" r="1.2"/><circle cx="113.7" cy="247.7" r="1.2"/><circle cx="259.4" cy="207.2" r="1.2"/><circle cx="68.6" cy="223.4" r="1.2"/><circle cx="70.3" cy="245.1" r="1.2"/><circle cx="169.8" cy="216.1" r="1.2"/><circle cx="69.7" cy="258.1" r="1.2"/><circle cx="125.0" cy="250.7" r="1.2"/><circle cx="361.2" cy="245.8" r="1.2"/><circle cx="170.8" cy="307.3" r="1.2"/><circle cx="267.5" cy="252.2" r="1.2"/><circle cx="59.9" cy="230.0" r="1.2"/><circle cx="108.5" cy="245.8" r="1.2"/><circle cx="217.7" cy="222.9" r="1.2"/><circle cx="125.3" cy="243.9" r="1.2"/><circle cx="127.4" cy="247.6" r="1.2"/><circle cx="312.5" cy="301.8" r="1.2"/><circle cx="76.4" cy="237.6" r="1.2"/><circle cx="158.3" cy="287.3" r="1.2"/><circle cx="209.7" cy="287.0" r="1.2"/><circle cx="264.9" cy="254.7" r="1.2"/><circle cx="354.8" cy="247.0" r="1.2"/><circle cx="156.5" cy="327.8" r="1.2"/><circle cx="117.6" cy="250.1" r="1.2"/><circle cx="162.6" cy="268.9" r="1.2"/><circle cx="360.5" cy="233.2" r="1.2"/><circle cx="212.7" cy="234.3" r="1.2"/><circle cx="71.1" cy="301.0" r="1.2"/><circle cx="304.7" cy="247.1" r="1.2"/><circle cx="162.4" cy="253.9" r="1.2"/><circle cx="357.7" cy="273.5" r="1.2"/><circle cx="364.8" cy="260.8" r="1.2"/><circle cx="128.1" cy="225.9" r="1.2"/><circle cx="261.7" cy="251.3" r="1.2"/><circle cx="77.6" cy="259.5" r="1.2"/><circle cx="78.7" cy="274.7" r="1.2"/><circle cx="169.2" cy="266.6" r="1.2"/><circle cx="173.8" cy="257.1" r="1.2"/><circle cx="263.7" cy="272.5" r="1.2"/><circle cx="260.6" cy="273.8" r="1.2"/><circle cx="165.4" cy="248.0" r="1.2"/><circle cx="121.1" cy="263.7" r="1.2"/><circle cx="218.1" cy="323.9" r="1.2"/><circle cx="81.3" cy="291.8" r="1.2"/><circle cx="67.4" cy="238.2" r="1.2"/><circle cx="266.8" cy="257.5" r="1.2"/><circle cx="63.9" cy="274.7" r="1.2"/><circle cx="119.1" cy="233.9" r="1.2"/><circle cx="79.5" cy="251.7" r="1.2"/><circle cx="71.6" cy="282.9" r="1.2"/><circle cx="77.5" cy="222.1" r="1.2"/><circle cx="122.5" cy="251.0" r="1.2"/><circle cx="257.7" cy="250.5" r="1.2"/><circle cx="263.4" cy="277.0" r="1.2"/><circle cx="172.6" cy="244.7" r="1.2"/><circle cx="75.5" cy="242.9" r="1.2"/><circle cx="171.3" cy="235.8" r="1.2"/><circle cx="213.0" cy="299.4" r="1.2"/><circle cx="269.5" cy="276.0" r="1.2"/><circle cx="71.7" cy="243.4" r="1.2"/><circle cx="261.3" cy="274.0" r="1.2"/><circle cx="266.3" cy="205.3" r="1.2"/><circle cx="263.1" cy="276.1" r="1.2"/><circle cx="77.6" cy="244.0" r="1.2"/><circle cx="315.2" cy="255.4" r="1.2"/><circle cx="358.9" cy="298.3" r="1.2"/><circle cx="356.3" cy="232.3" r="1.2"/><circle cx="167.8" cy="304.7" r="1.2"/><circle cx="116.5" cy="240.2" r="1.2"/><circle cx="207.8" cy="246.6" r="1.2"/><circle cx="117.7" cy="246.2" r="1.2"/><circle cx="364.0" cy="226.4" r="1.2"/><circle cx="255.0" cy="260.6" r="1.2"/><circle cx="65.3" cy="256.0" r="1.2"/><circle cx="166.1" cy="240.6" r="1.2"/><circle cx="222.3" cy="255.3" r="1.2"/><circle cx="75.1" cy="316.5" r="1.2"/><circle cx="310.2" cy="263.4" r="1.2"/><circle cx="209.9" cy="210.5" r="1.2"/><circle cx="307.2" cy="250.7" r="1.2"/><circle cx="363.5" cy="302.3" r="1.2"/><circle cx="159.3" cy="221.8" r="1.2"/><circle cx="309.0" cy="281.0" r="1.2"/><circle cx="67.6" cy="259.8" r="1.2"/><circle cx="271.2" cy="244.7" r="1.2"/><circle cx="267.5" cy="257.8" r="1.2"/><circle cx="167.9" cy="263.9" r="1.2"/><circle cx="352.0" cy="234.7" r="1.2"/><circle cx="217.8" cy="272.2" r="1.2"/><circle cx="272.1" cy="281.9" r="1.2"/><circle cx="207.3" cy="246.7" r="1.2"/><circle cx="77.8" cy="249.2" r="1.2"/><circle cx="216.6" cy="257.4" r="1.2"/><circle cx="162.3" cy="245.6" r="1.2"/><circle cx="217.6" cy="207.5" r="1.2"/><circle cx="74.6" cy="221.1" r="1.2"/><circle cx="210.5" cy="340.5" r="1.2"/><circle cx="260.1" cy="254.6" r="1.2"/><circle cx="212.6" cy="276.0" r="1.2"/><circle cx="112.5" cy="245.5" r="1.2"/><circle cx="121.1" cy="254.0" r="1.2"/><circle cx="361.9" cy="250.9" r="1.2"/><circle cx="167.0" cy="279.0" r="1.2"/><circle cx="72.5" cy="327.2" r="1.2"/><circle cx="308.5" cy="234.3" r="1.2"/><circle cx="118.2" cy="239.3" r="1.2"/><circle cx="163.8" cy="261.4" r="1.2"/><circle cx="172.0" cy="310.5" r="1.2"/><circle cx="257.4" cy="290.0" r="1.2"/><circle cx="268.2" cy="302.8" r="1.2"/><circle cx="118.2" cy="267.6" r="1.2"/><circle cx="83.5" cy="227.1" r="1.2"/><circle cx="307.5" cy="376.7" r="1.2"/><circle cx="160.5" cy="248.9" r="1.2"/><circle cx="121.1" cy="280.8" r="1.2"/><circle cx="79.0" cy="250.1" r="1.2"/><circle cx="118.8" cy="246.3" r="1.2"/><circle cx="108.2" cy="249.5" r="1.2"/><circle cx="120.9" cy="251.4" r="1.2"/><circle cx="313.1" cy="240.2" r="1.2"/><circle cx="314.3" cy="245.7" r="1.2"/><circle cx="227.0" cy="202.7" r="1.2"/><circle cx="258.9" cy="241.9" r="1.2"/><circle cx="79.6" cy="239.4" r="1.2"/><circle cx="120.8" cy="237.5" r="1.2"/><circle cx="121.3" cy="245.0" r="1.2"/><circle cx="220.3" cy="240.1" r="1.2"/><circle cx="351.0" cy="233.1" r="1.2"/><circle cx="122.9" cy="245.4" r="1.2"/><circle cx="108.8" cy="239.3" r="1.2"/><circle cx="121.9" cy="266.4" r="1.2"/><circle cx="308.3" cy="219.8" r="1.2"/><circle cx="357.9" cy="299.6" r="1.2"/><circle cx="215.6" cy="272.3" r="1.2"/><circle cx="315.1" cy="284.9" r="1.2"/><circle cx="78.4" cy="230.8" r="1.2"/><circle cx="214.2" cy="283.3" r="1.2"/><circle cx="64.6" cy="273.6" r="1.2"/><circle cx="161.3" cy="300.9" r="1.2"/><circle cx="70.2" cy="281.1" r="1.2"/><circle cx="79.0" cy="316.1" r="1.2"/><circle cx="258.8" cy="269.0" r="1.2"/><circle cx="115.7" cy="246.9" r="1.2"/><circle cx="172.0" cy="264.5" r="1.2"/><circle cx="119.4" cy="275.6" r="1.2"/><circle cx="317.2" cy="258.4" r="1.2"/><circle cx="310.3" cy="299.1" r="1.2"/><circle cx="117.1" cy="248.5" r="1.2"/><circle cx="122.4" cy="248.7" r="1.2"/><circle cx="166.5" cy="259.0" r="1.2"/><circle cx="268.3" cy="235.8" r="1.2"/><circle cx="267.1" cy="254.6" r="1.2"/><circle cx="116.4" cy="264.2" r="1.2"/><circle cx="308.6" cy="234.9" r="1.2"/><circle cx="312.4" cy="257.6" r="1.2"/><circle cx="113.3" cy="249.9" r="1.2"/><circle cx="357.8" cy="218.5" r="1.2"/><circle cx="112.8" cy="246.6" r="1.2"/><circle cx="113.4" cy="256.6" r="1.2"/><circle cx="73.2" cy="224.2" r="1.2"/><circle cx="68.5" cy="284.6" r="1.2"/><circle cx="120.6" cy="248.2" r="1.2"/><circle cx="120.5" cy="241.8" r="1.2"/><circle cx="209.1" cy="229.8" r="1.2"/><circle cx="361.9" cy="300.7" r="1.2"/><circle cx="211.3" cy="303.8" r="1.2"/><circle cx="65.9" cy="256.6" r="1.2"/><circle cx="112.5" cy="243.4" r="1.2"/><circle cx="358.1" cy="261.5" r="1.2"/><circle cx="112.5" cy="254.2" r="1.2"/><circle cx="112.9" cy="243.6" r="1.2"/><circle cx="72.1" cy="223.8" r="1.2"/><circle cx="122.4" cy="254.0" r="1.2"/><circle cx="211.2" cy="246.1" r="1.2"/><circle cx="264.1" cy="263.9" r="1.2"/><circle cx="61.0" cy="329.1" r="1.2"/><circle cx="120.2" cy="244.8" r="1.2"/><circle cx="162.6" cy="300.8" r="1.2"/><circle cx="308.1" cy="237.8" r="1.2"/><circle cx="315.0" cy="255.1" r="1.2"/><circle cx="82.0" cy="222.7" r="1.2"/><circle cx="66.6" cy="347.7" r="1.2"/><circle cx="355.3" cy="257.2" r="1.2"/><circle cx="75.7" cy="231.0" r="1.2"/><circle cx="71.9" cy="285.8" r="1.2"/><circle cx="364.5" cy="268.7" r="1.2"/><circle cx="356.7" cy="252.7" r="1.2"/><circle cx="73.0" cy="266.4" r="1.2"/><circle cx="217.1" cy="270.9" r="1.2"/><circle cx="304.9" cy="254.0" r="1.2"/><circle cx="131.0" cy="249.9" r="1.2"/><circle cx="118.4" cy="229.5" r="1.2"/><circle cx="73.4" cy="282.4" r="1.2"/><circle cx="79.4" cy="312.3" r="1.2"/><circle cx="360.1" cy="245.7" r="1.2"/><circle cx="306.5" cy="252.8" r="1.2"/><circle cx="70.7" cy="260.3" r="1.2"/><circle cx="112.1" cy="248.6" r="1.2"/><circle cx="354.5" cy="280.6" r="1.2"/><circle cx="111.9" cy="244.6" r="1.2"/><circle cx="70.1" cy="285.1" r="1.2"/><circle cx="172.5" cy="292.4" r="1.2"/><circle cx="267.1" cy="252.6" r="1.2"/><circle cx="352.9" cy="259.4" r="1.2"/><circle cx="116.7" cy="241.5" r="1.2"/><circle cx="363.5" cy="246.9" r="1.2"/><circle cx="79.9" cy="272.5" r="1.2"/><circle cx="267.9" cy="262.5" r="1.2"/><circle cx="68.4" cy="278.4" r="1.2"/><circle cx="303.3" cy="255.6" r="1.2"/><circle cx="206.9" cy="259.1" r="1.2"/><circle cx="119.6" cy="239.8" r="1.2"/><circle cx="71.6" cy="316.5" r="1.2"/><circle cx="122.7" cy="255.6" r="1.2"/><circle cx="117.8" cy="247.0" r="1.2"/><circle cx="69.2" cy="233.3" r="1.2"/><circle cx="261.6" cy="285.6" r="1.2"/><circle cx="170.0" cy="209.2" r="1.2"/><circle cx="310.5" cy="300.1" r="1.2"/><circle cx="74.3" cy="284.9" r="1.2"/><circle cx="265.3" cy="259.1" r="1.2"/><circle cx="307.4" cy="224.2" r="1.2"/><circle cx="120.5" cy="298.0" r="1.2"/><circle cx="74.0" cy="338.9" r="1.2"/><circle cx="366.0" cy="341.0" r="1.2"/><circle cx="73.9" cy="223.8" r="1.2"/><circle cx="311.1" cy="280.9" r="1.2"/><circle cx="209.0" cy="263.5" r="1.2"/><circle cx="72.4" cy="309.0" r="1.2"/><circle cx="76.8" cy="241.2" r="1.2"/><circle cx="123.9" cy="239.2" r="1.2"/><circle cx="216.2" cy="256.3" r="1.2"/><circle cx="115.4" cy="236.7" r="1.2"/><circle cx="257.8" cy="283.3" r="1.2"/><circle cx="115.4" cy="260.0" r="1.2"/><circle cx="116.0" cy="259.9" r="1.2"/><circle cx="68.4" cy="235.0" r="1.2"/><circle cx="119.6" cy="271.2" r="1.2"/><circle cx="210.4" cy="260.0" r="1.2"/><circle cx="69.6" cy="243.3" r="1.2"/><circle cx="122.5" cy="240.9" r="1.2"/><circle cx="165.3" cy="245.5" r="1.2"/><circle cx="63.9" cy="225.6" r="1.2"/><circle cx="306.3" cy="270.4" r="1.2"/><circle cx="76.5" cy="242.7" r="1.2"/><circle cx="358.0" cy="234.5" r="1.2"/><circle cx="123.8" cy="255.0" r="1.2"/><circle cx="71.2" cy="263.0" r="1.2"/><circle cx="75.6" cy="222.6" r="1.2"/><circle cx="119.1" cy="247.9" r="1.2"/><circle cx="217.8" cy="248.9" r="1.2"/><circle cx="312.2" cy="266.1" r="1.2"/><circle cx="126.5" cy="265.2" r="1.2"/><circle cx="263.8" cy="256.4" r="1.2"/><circle cx="127.1" cy="237.6" r="1.2"/><circle cx="309.5" cy="299.8" r="1.2"/><circle cx="211.6" cy="266.9" r="1.2"/><circle cx="213.7" cy="268.9" r="1.2"/><circle cx="304.5" cy="357.0" r="1.2"/><circle cx="263.4" cy="229.0" r="1.2"/><circle cx="62.0" cy="286.5" r="1.2"/><circle cx="259.6" cy="239.2" r="1.2"/><circle cx="70.8" cy="277.1" r="1.2"/><circle cx="209.4" cy="255.9" r="1.2"/><circle cx="267.5" cy="252.1" r="1.2"/><circle cx="311.8" cy="287.1" r="1.2"/><circle cx="74.2" cy="264.3" r="1.2"/><circle cx="358.5" cy="263.1" r="1.2"/><circle cx="75.4" cy="226.9" r="1.2"/><circle cx="355.8" cy="256.6" r="1.2"/><circle cx="260.2" cy="239.1" r="1.2"/><circle cx="351.9" cy="241.2" r="1.2"/><circle cx="117.3" cy="249.1" r="1.2"/><circle cx="322.4" cy="233.9" r="1.2"/><circle cx="271.3" cy="244.9" r="1.2"/><circle cx="214.4" cy="266.2" r="1.2"/><circle cx="119.7" cy="246.8" r="1.2"/><circle cx="65.4" cy="175.0" r="1.2"/><circle cx="264.2" cy="255.5" r="1.2"/><circle cx="70.7" cy="246.7" r="1.2"/><circle cx="78.6" cy="297.6" r="1.2"/><circle cx="76.3" cy="274.5" r="1.2"/><circle cx="80.0" cy="287.4" r="1.2"/><circle cx="266.1" cy="238.8" r="1.2"/><circle cx="211.8" cy="216.3" r="1.2"/><circle cx="159.3" cy="266.4" r="1.2"/><circle cx="68.3" cy="227.2" r="1.2"/><circle cx="362.1" cy="276.3" r="1.2"/><circle cx="357.2" cy="248.1" r="1.2"/><circle cx="318.1" cy="278.1" r="1.2"/><circle cx="264.3" cy="244.6" r="1.2"/><circle cx="259.0" cy="265.3" r="1.2"/><circle cx="168.8" cy="340.5" r="1.2"/><circle cx="76.0" cy="312.0" r="1.2"/><circle cx="310.6" cy="230.6" r="1.2"/><circle cx="67.0" cy="327.9" r="1.2"/><circle cx="66.8" cy="268.1" r="1.2"/><circle cx="354.5" cy="262.4" r="1.2"/><circle cx="119.1" cy="250.0" r="1.2"/><circle cx="266.9" cy="223.4" r="1.2"/><circle cx="65.6" cy="280.1" r="1.2"/><circle cx="123.6" cy="239.5" r="1.2"/><circle cx="67.7" cy="383.2" r="1.2"/><circle cx="75.2" cy="252.9" r="1.2"/><circle cx="306.9" cy="266.3" r="1.2"/><circle cx="108.9" cy="254.6" r="1.2"/><circle cx="265.7" cy="256.7" r="1.2"/><circle cx="126.9" cy="246.6" r="1.2"/><circle cx="172.6" cy="291.4" r="1.2"/><circle cx="360.0" cy="226.2" r="1.2"/><circle cx="120.5" cy="243.9" r="1.2"/><circle cx="117.0" cy="246.4" r="1.2"/><circle cx="361.5" cy="225.5" r="1.2"/><circle cx="263.7" cy="225.4" r="1.2"/><circle cx="359.6" cy="252.2" r="1.2"/><circle cx="77.7" cy="145.8" r="1.2"/><circle cx="208.7" cy="218.7" r="1.2"/><circle cx="319.6" cy="226.8" r="1.2"/><circle cx="221.7" cy="248.6" r="1.2"/><circle cx="356.6" cy="225.8" r="1.2"/><circle cx="113.6" cy="260.2" r="1.2"/><circle cx="111.9" cy="247.2" r="1.2"/><circle cx="65.5" cy="252.8" r="1.2"/><circle cx="70.8" cy="249.3" r="1.2"/><circle cx="166.8" cy="306.0" r="1.2"/><circle cx="120.3" cy="246.9" r="1.2"/><circle cx="171.8" cy="227.5" r="1.2"/><circle cx="259.4" cy="290.9" r="1.2"/><circle cx="167.5" cy="217.7" r="1.2"/><circle cx="311.4" cy="297.7" r="1.2"/><circle cx="360.5" cy="256.0" r="1.2"/><circle cx="261.0" cy="271.2" r="1.2"/><circle cx="168.3" cy="284.1" r="1.2"/><circle cx="76.6" cy="274.2" r="1.2"/><circle cx="212.9" cy="303.9" r="1.2"/><circle cx="125.6" cy="238.0" r="1.2"/><circle cx="169.5" cy="258.3" r="1.2"/><circle cx="359.4" cy="247.7" r="1.2"/><circle cx="124.6" cy="241.2" r="1.2"/><circle cx="73.0" cy="320.4" r="1.2"/><circle cx="129.7" cy="249.5" r="1.2"/><circle cx="128.2" cy="251.8" r="1.2"/><circle cx="67.3" cy="234.8" r="1.2"/><circle cx="258.6" cy="347.0" r="1.2"/><circle cx="354.9" cy="245.7" r="1.2"/><circle cx="163.9" cy="260.4" r="1.2"/><circle cx="119.2" cy="264.6" r="1.2"/><circle cx="264.8" cy="293.3" r="1.2"/><circle cx="116.5" cy="260.3" r="1.2"/><circle cx="77.0" cy="222.9" r="1.2"/><circle cx="111.8" cy="239.3" r="1.2"/><circle cx="67.8" cy="278.1" r="1.2"/><circle cx="72.6" cy="337.1" r="1.2"/><circle cx="74.0" cy="289.0" r="1.2"/><circle cx="70.5" cy="272.8" r="1.2"/><circle cx="69.9" cy="267.3" r="1.2"/><circle cx="125.1" cy="265.6" r="1.2"/><circle cx="127.8" cy="256.8" r="1.2"/><circle cx="69.4" cy="272.3" r="1.2"/><circle cx="116.9" cy="249.1" r="1.2"/><circle cx="120.2" cy="242.4" r="1.2"/><circle cx="119.9" cy="248.6" r="1.2"/><circle cx="358.8" cy="271.7" r="1.2"/><circle cx="73.7" cy="358.9" r="1.2"/><circle cx="263.5" cy="258.6" r="1.2"/><circle cx="365.8" cy="260.5" r="1.2"/><circle cx="63.1" cy="274.8" r="1.2"/><circle cx="114.9" cy="256.9" r="1.2"/><circle cx="73.1" cy="280.5" r="1.2"/><circle cx="76.1" cy="265.8" r="1.2"/><circle cx="117.0" cy="252.7" r="1.2"/><circle cx="71.4" cy="239.2" r="1.2"/><circle cx="363.1" cy="267.3" r="1.2"/><circle cx="122.1" cy="252.8" r="1.2"/><circle cx="368.4" cy="265.3" r="1.2"/><circle cx="363.8" cy="260.3" r="1.2"/><circle cx="301.2" cy="270.2" r="1.2"/><circle cx="116.1" cy="272.3" r="1.2"/><circle cx="214.4" cy="265.5" r="1.2"/><circle cx="212.6" cy="286.7" r="1.2"/><circle cx="216.8" cy="258.6" r="1.2"/><circle cx="299.2" cy="275.0" r="1.2"/><circle cx="63.6" cy="221.8" r="1.2"/><circle cx="68.4" cy="353.2" r="1.2"/><circle cx="125.0" cy="262.8" r="1.2"/><circle cx="264.9" cy="247.6" r="1.2"/><circle cx="266.5" cy="242.6" r="1.2"/><circle cx="312.0" cy="264.7" r="1.2"/><circle cx="74.5" cy="252.0" r="1.2"/><circle cx="78.3" cy="273.7" r="1.2"/><circle cx="266.3" cy="255.2" r="1.2"/><circle cx="353.1" cy="252.7" r="1.2"/><circle cx="120.9" cy="235.9" r="1.2"/><circle cx="270.6" cy="255.2" r="1.2"/><circle cx="264.4" cy="293.3" r="1.2"/><circle cx="61.3" cy="288.8" r="1.2"/><circle cx="74.1" cy="227.3" r="1.2"/><circle cx="73.9" cy="215.1" r="1.2"/><circle cx="73.1" cy="243.2" r="1.2"/><circle cx="219.0" cy="208.1" r="1.2"/><circle cx="222.1" cy="230.8" r="1.2"/><circle cx="59.9" cy="289.8" r="1.2"/><circle cx="120.5" cy="249.1" r="1.2"/><circle cx="71.2" cy="337.5" r="1.2"/><circle cx="123.0" cy="235.7" r="1.2"/><circle cx="214.3" cy="250.3" r="1.2"/><circle cx="132.5" cy="244.0" r="1.2"/><circle cx="122.0" cy="254.6" r="1.2"/><circle cx="271.3" cy="253.5" r="1.2"/><circle cx="123.3" cy="239.8" r="1.2"/><circle cx="271.5" cy="296.5" r="1.2"/><circle cx="160.0" cy="243.2" r="1.2"/><circle cx="217.6" cy="251.3" r="1.2"/><circle cx="116.9" cy="254.1" r="1.2"/><circle cx="170.8" cy="262.1" r="1.2"/><circle cx="67.8" cy="369.4" r="1.2"/><circle cx="67.9" cy="243.8" r="1.2"/><circle cx="122.1" cy="253.7" r="1.2"/><circle cx="360.8" cy="257.3" r="1.2"/><circle cx="266.4" cy="263.1" r="1.2"/><circle cx="271.5" cy="285.6" r="1.2"/><circle cx="355.1" cy="298.2" r="1.2"/><circle cx="115.2" cy="253.5" r="1.2"/><circle cx="167.2" cy="267.7" r="1.2"/><circle cx="117.5" cy="263.9" r="1.2"/><circle cx="70.6" cy="273.8" r="1.2"/><circle cx="357.8" cy="246.4" r="1.2"/><circle cx="127.0" cy="240.7" r="1.2"/><circle cx="73.9" cy="247.4" r="1.2"/><circle cx="357.2" cy="264.6" r="1.2"/><circle cx="124.0" cy="253.4" r="1.2"/><circle cx="118.2" cy="290.7" r="1.2"/><circle cx="158.1" cy="271.3" r="1.2"/><circle cx="261.4" cy="261.0" r="1.2"/><circle cx="312.1" cy="249.8" r="1.2"/><circle cx="268.3" cy="297.0" r="1.2"/><circle cx="111.7" cy="243.2" r="1.2"/><circle cx="359.8" cy="235.1" r="1.2"/><circle cx="308.6" cy="261.6" r="1.2"/><circle cx="260.3" cy="224.6" r="1.2"/><circle cx="71.9" cy="225.4" r="1.2"/><circle cx="360.3" cy="265.7" r="1.2"/><circle cx="117.3" cy="247.1" r="1.2"/><circle cx="268.0" cy="247.8" r="1.2"/><circle cx="115.6" cy="235.1" r="1.2"/><circle cx="350.3" cy="217.4" r="1.2"/><circle cx="355.7" cy="232.8" r="1.2"/><circle cx="125.3" cy="244.5" r="1.2"/><circle cx="74.6" cy="282.3" r="1.2"/><circle cx="366.8" cy="245.9" r="1.2"/><circle cx="121.2" cy="236.9" r="1.2"/><circle cx="112.2" cy="264.8" r="1.2"/><circle cx="217.7" cy="202.1" r="1.2"/><circle cx="308.7" cy="272.3" r="1.2"/><circle cx="110.9" cy="247.3" r="1.2"/><circle cx="219.2" cy="216.3" r="1.2"/><circle cx="167.9" cy="299.4" r="1.2"/><circle cx="166.5" cy="250.4" r="1.2"/><circle cx="74.0" cy="246.5" r="1.2"/><circle cx="124.1" cy="253.6" r="1.2"/><circle cx="120.2" cy="260.1" r="1.2"/><circle cx="121.3" cy="244.7" r="1.2"/><circle cx="257.2" cy="267.6" r="1.2"/><circle cx="307.8" cy="225.3" r="1.2"/><circle cx="360.6" cy="246.5" r="1.2"/><circle cx="115.3" cy="238.9" r="1.2"/><circle cx="358.3" cy="298.4" r="1.2"/><circle cx="77.5" cy="272.4" r="1.2"/><circle cx="71.1" cy="280.3" r="1.2"/><circle cx="176.0" cy="240.4" r="1.2"/><circle cx="73.0" cy="272.1" r="1.2"/><circle cx="262.4" cy="254.6" r="1.2"/><circle cx="167.1" cy="307.4" r="1.2"/><circle cx="315.6" cy="269.5" r="1.2"/><circle cx="217.3" cy="245.1" r="1.2"/><circle cx="65.8" cy="265.0" r="1.2"/><circle cx="72.1" cy="233.2" r="1.2"/><circle cx="74.0" cy="274.4" r="1.2"/><circle cx="116.2" cy="241.9" r="1.2"/><circle cx="123.6" cy="237.2" r="1.2"/><circle cx="362.9" cy="240.7" r="1.2"/><circle cx="71.5" cy="261.8" r="1.2"/><circle cx="71.0" cy="240.9" r="1.2"/><circle cx="264.1" cy="305.0" r="1.2"/><circle cx="222.8" cy="261.3" r="1.2"/><circle cx="310.5" cy="321.0" r="1.2"/><circle cx="76.6" cy="165.6" r="1.2"/><circle cx="121.3" cy="241.6" r="1.2"/><circle cx="118.9" cy="246.5" r="1.2"/><circle cx="169.4" cy="234.4" r="1.2"/><circle cx="166.0" cy="299.9" r="1.2"/><circle cx="161.2" cy="266.3" r="1.2"/><circle cx="311.9" cy="255.9" r="1.2"/><circle cx="216.3" cy="192.7" r="1.2"/><circle cx="222.8" cy="235.1" r="1.2"/><circle cx="116.0" cy="244.6" r="1.2"/><circle cx="267.8" cy="245.7" r="1.2"/><circle cx="71.0" cy="284.6" r="1.2"/><circle cx="70.6" cy="229.2" r="1.2"/><circle cx="221.3" cy="269.8" r="1.2"/><circle cx="60.8" cy="225.3" r="1.2"/><circle cx="119.1" cy="242.7" r="1.2"/><circle cx="217.0" cy="251.0" r="1.2"/><circle cx="120.1" cy="241.0" r="1.2"/><circle cx="311.3" cy="245.1" r="1.2"/><circle cx="167.1" cy="283.8" r="1.2"/><circle cx="58.5" cy="245.4" r="1.2"/><circle cx="357.3" cy="275.1" r="1.2"/><circle cx="356.2" cy="262.4" r="1.2"/><circle cx="118.7" cy="246.1" r="1.2"/><circle cx="164.1" cy="223.8" r="1.2"/><circle cx="176.8" cy="251.8" r="1.2"/><circle cx="311.7" cy="226.4" r="1.2"/><circle cx="306.2" cy="284.5" r="1.2"/><circle cx="314.4" cy="239.3" r="1.2"/><circle cx="216.3" cy="268.0" r="1.2"/><circle cx="263.0" cy="252.9" r="1.2"/><circle cx="78.1" cy="265.6" r="1.2"/><circle cx="78.5" cy="289.8" r="1.2"/><circle cx="119.2" cy="239.2" r="1.2"/><circle cx="67.6" cy="226.2" r="1.2"/><circle cx="221.6" cy="271.3" r="1.2"/><circle cx="260.6" cy="223.2" r="1.2"/><circle cx="108.0" cy="243.7" r="1.2"/><circle cx="67.4" cy="247.9" r="1.2"/><circle cx="361.3" cy="296.3" r="1.2"/><circle cx="115.6" cy="259.4" r="1.2"/><circle cx="166.1" cy="276.2" r="1.2"/><circle cx="210.9" cy="316.5" r="1.2"/><circle cx="262.8" cy="301.6" r="1.2"/><circle cx="108.5" cy="252.6" r="1.2"/><circle cx="217.5" cy="248.6" r="1.2"/><circle cx="212.7" cy="256.7" r="1.2"/><circle cx="349.5" cy="269.6" r="1.2"/><circle cx="354.7" cy="291.9" r="1.2"/><circle cx="116.7" cy="254.2" r="1.2"/><circle cx="116.0" cy="245.8" r="1.2"/><circle cx="128.9" cy="229.8" r="1.2"/><circle cx="264.7" cy="291.6" r="1.2"/><circle cx="74.8" cy="282.9" r="1.2"/><circle cx="351.2" cy="298.9" r="1.2"/><circle cx="165.9" cy="222.2" r="1.2"/><circle cx="84.7" cy="225.3" r="1.2"/><circle cx="354.9" cy="262.6" r="1.2"/><circle cx="67.9" cy="242.9" r="1.2"/><circle cx="68.9" cy="267.4" r="1.2"/><circle cx="121.4" cy="242.2" r="1.2"/><circle cx="218.8" cy="249.9" r="1.2"/><circle cx="359.6" cy="250.2" r="1.2"/><circle cx="168.2" cy="260.2" r="1.2"/><circle cx="267.5" cy="246.5" r="1.2"/><circle cx="357.3" cy="257.0" r="1.2"/><circle cx="165.3" cy="213.4" r="1.2"/><circle cx="358.1" cy="262.9" r="1.2"/><circle cx="78.5" cy="315.7" r="1.2"/><circle cx="268.7" cy="255.8" r="1.2"/><circle cx="316.1" cy="267.9" r="1.2"/><circle cx="129.5" cy="251.6" r="1.2"/><circle cx="120.1" cy="259.6" r="1.2"/><circle cx="68.9" cy="242.5" r="1.2"/><circle cx="218.5" cy="260.9" r="1.2"/><circle cx="129.0" cy="259.4" r="1.2"/><circle cx="117.4" cy="242.7" r="1.2"/><circle cx="73.9" cy="275.7" r="1.2"/><circle cx="321.6" cy="243.6" r="1.2"/><circle cx="353.7" cy="243.0" r="1.2"/><circle cx="122.1" cy="239.7" r="1.2"/><circle cx="117.9" cy="237.0" r="1.2"/><circle cx="360.1" cy="252.2" r="1.2"/><circle cx="312.3" cy="244.8" r="1.2"/><circle cx="174.6" cy="258.5" r="1.2"/><circle cx="257.6" cy="258.2" r="1.2"/><circle cx="112.4" cy="247.7" r="1.2"/><circle cx="220.3" cy="264.5" r="1.2"/><circle cx="167.3" cy="284.9" r="1.2"/><circle cx="353.6" cy="237.1" r="1.2"/><circle cx="310.0" cy="258.3" r="1.2"/><circle cx="261.9" cy="251.0" r="1.2"/><circle cx="315.9" cy="268.7" r="1.2"/><circle cx="361.3" cy="233.6" r="1.2"/><circle cx="308.0" cy="271.3" r="1.2"/><circle cx="122.1" cy="244.9" r="1.2"/><circle cx="217.9" cy="260.6" r="1.2"/><circle cx="170.6" cy="257.1" r="1.2"/><circle cx="310.1" cy="236.2" r="1.2"/><circle cx="312.9" cy="253.3" r="1.2"/><circle cx="219.5" cy="298.7" r="1.2"/><circle cx="264.3" cy="262.5" r="1.2"/><circle cx="219.0" cy="269.4" r="1.2"/><circle cx="357.4" cy="276.2" r="1.2"/><circle cx="265.6" cy="239.0" r="1.2"/><circle cx="121.2" cy="285.1" r="1.2"/><circle cx="75.2" cy="267.7" r="1.2"/><circle cx="119.8" cy="236.4" r="1.2"/><circle cx="165.5" cy="246.6" r="1.2"/><circle cx="355.6" cy="226.6" r="1.2"/><circle cx="210.6" cy="262.7" r="1.2"/><circle cx="73.1" cy="222.5" r="1.2"/><circle cx="213.2" cy="239.8" r="1.2"/><circle cx="224.7" cy="229.9" r="1.2"/><circle cx="116.0" cy="246.7" r="1.2"/><circle cx="73.9" cy="235.3" r="1.2"/><circle cx="117.3" cy="240.0" r="1.2"/><circle cx="116.9" cy="258.6" r="1.2"/><circle cx="74.5" cy="251.1" r="1.2"/><circle cx="72.5" cy="261.9" r="1.2"/><circle cx="117.5" cy="247.7" r="1.2"/><circle cx="115.6" cy="232.5" r="1.2"/><circle cx="257.4" cy="273.4" r="1.2"/><circle cx="306.9" cy="246.5" r="1.2"/><circle cx="123.0" cy="238.3" r="1.2"/><circle cx="69.8" cy="229.2" r="1.2"/><circle cx="124.4" cy="254.2" r="1.2"/><circle cx="210.5" cy="344.0" r="1.2"/><circle cx="273.5" cy="248.2" r="1.2"/><circle cx="306.2" cy="233.8" r="1.2"/><circle cx="223.9" cy="210.2" r="1.2"/><circle cx="223.1" cy="264.7" r="1.2"/><circle cx="265.4" cy="260.0" r="1.2"/><circle cx="356.6" cy="244.2" r="1.2"/><circle cx="110.4" cy="239.3" r="1.2"/><circle cx="167.9" cy="265.3" r="1.2"/><circle cx="310.3" cy="237.6" r="1.2"/><circle cx="263.7" cy="345.0" r="1.2"/><circle cx="74.6" cy="218.5" r="1.2"/><circle cx="116.6" cy="237.6" r="1.2"/><circle cx="69.4" cy="239.5" r="1.2"/><circle cx="307.1" cy="234.0" r="1.2"/><circle cx="75.0" cy="219.7" r="1.2"/><circle cx="214.0" cy="265.3" r="1.2"/><circle cx="110.9" cy="235.3" r="1.2"/><circle cx="357.1" cy="229.3" r="1.2"/><circle cx="120.8" cy="261.0" r="1.2"/><circle cx="211.2" cy="271.3" r="1.2"/><circle cx="113.7" cy="239.3" r="1.2"/><circle cx="75.3" cy="257.9" r="1.2"/><circle cx="76.5" cy="270.9" r="1.2"/><circle cx="164.6" cy="216.0" r="1.2"/><circle cx="166.5" cy="258.7" r="1.2"/><circle cx="311.4" cy="300.3" r="1.2"/><circle cx="268.9" cy="274.0" r="1.2"/><circle cx="253.7" cy="274.0" r="1.2"/><circle cx="264.9" cy="247.8" r="1.2"/><circle cx="119.6" cy="240.6" r="1.2"/><circle cx="68.0" cy="329.6" r="1.2"/><circle cx="66.6" cy="258.1" r="1.2"/><circle cx="123.9" cy="244.4" r="1.2"/><circle cx="267.5" cy="272.1" r="1.2"/><circle cx="119.3" cy="252.2" r="1.2"/><circle cx="316.0" cy="232.4" r="1.2"/><circle cx="163.8" cy="248.4" r="1.2"/><circle cx="73.6" cy="261.7" r="1.2"/><circle cx="117.7" cy="239.0" r="1.2"/><circle cx="122.5" cy="244.2" r="1.2"/><circle cx="263.9" cy="276.6" r="1.2"/><circle cx="261.2" cy="286.9" r="1.2"/><circle cx="107.3" cy="244.2" r="1.2"/><circle cx="121.9" cy="244.9" r="1.2"/><circle cx="65.4" cy="284.1" r="1.2"/><circle cx="112.6" cy="252.0" r="1.2"/><circle cx="80.3" cy="237.4" r="1.2"/><circle cx="359.1" cy="263.4" r="1.2"/><circle cx="159.4" cy="271.4" r="1.2"/><circle cx="73.4" cy="273.8" r="1.2"/><circle cx="71.5" cy="254.7" r="1.2"/><circle cx="261.4" cy="276.1" r="1.2"/><circle cx="212.7" cy="260.0" r="1.2"/><circle cx="127.6" cy="253.9" r="1.2"/><circle cx="128.4" cy="245.2" r="1.2"/><circle cx="261.6" cy="243.6" r="1.2"/><circle cx="224.2" cy="228.5" r="1.2"/><circle cx="165.5" cy="244.5" r="1.2"/><circle cx="309.3" cy="258.3" r="1.2"/><circle cx="111.5" cy="259.2" r="1.2"/><circle cx="219.0" cy="301.4" r="1.2"/><circle cx="114.3" cy="252.5" r="1.2"/><circle cx="211.5" cy="304.2" r="1.2"/><circle cx="265.7" cy="217.0" r="1.2"/><circle cx="262.9" cy="244.2" r="1.2"/><circle cx="71.2" cy="281.1" r="1.2"/><circle cx="111.7" cy="244.4" r="1.2"/><circle cx="175.8" cy="311.5" r="1.2"/><circle cx="121.8" cy="250.1" r="1.2"/><circle cx="174.7" cy="226.4" r="1.2"/><circle cx="314.6" cy="227.2" r="1.2"/><circle cx="73.4" cy="299.0" r="1.2"/><circle cx="76.4" cy="382.4" r="1.2"/><circle cx="71.5" cy="284.7" r="1.2"/><circle cx="267.6" cy="253.2" r="1.2"/><circle cx="74.1" cy="259.6" r="1.2"/><circle cx="314.9" cy="228.3" r="1.2"/><circle cx="210.4" cy="298.6" r="1.2"/><circle cx="256.4" cy="243.2" r="1.2"/><circle cx="121.8" cy="258.2" r="1.2"/><circle cx="209.7" cy="245.6" r="1.2"/><circle cx="123.1" cy="251.3" r="1.2"/><circle cx="126.7" cy="259.1" r="1.2"/><circle cx="217.7" cy="229.8" r="1.2"/><circle cx="364.4" cy="223.9" r="1.2"/><circle cx="123.6" cy="246.0" r="1.2"/><circle cx="76.3" cy="256.3" r="1.2"/><circle cx="71.4" cy="222.9" r="1.2"/><circle cx="75.3" cy="357.5" r="1.2"/><circle cx="67.0" cy="247.3" r="1.2"/><circle cx="118.7" cy="234.0" r="1.2"/><circle cx="250.8" cy="241.9" r="1.2"/><circle cx="161.6" cy="244.1" r="1.2"/><circle cx="112.5" cy="245.6" r="1.2"/><circle cx="219.2" cy="266.1" r="1.2"/><circle cx="72.7" cy="249.4" r="1.2"/><circle cx="130.5" cy="246.8" r="1.2"/><circle cx="122.6" cy="237.7" r="1.2"/><circle cx="72.0" cy="358.6" r="1.2"/><circle cx="218.3" cy="225.3" r="1.2"/><circle cx="175.0" cy="249.1" r="1.2"/><circle cx="158.3" cy="277.6" r="1.2"/><circle cx="162.0" cy="254.1" r="1.2"/><circle cx="306.8" cy="260.0" r="1.2"/><circle cx="122.1" cy="262.2" r="1.2"/><circle cx="116.2" cy="238.7" r="1.2"/><circle cx="357.1" cy="269.4" r="1.2"/><circle cx="356.1" cy="262.9" r="1.2"/><circle cx="119.0" cy="248.8" r="1.2"/><circle cx="215.8" cy="328.2" r="1.2"/><circle cx="260.1" cy="287.0" r="1.2"/><circle cx="166.5" cy="211.1" r="1.2"/><circle cx="62.9" cy="227.6" r="1.2"/><circle cx="122.8" cy="235.6" r="1.2"/>
</g>
<g fill="#daa520" fill-opacity="0.2" stroke="#daa520" stroke-opacity="0.08" stroke-width="0.6">
<circle cx="590.8" cy="289.7" r="1.3"/><circle cx="464.4" cy="198.7" r="1.3"/><circle cx="403.0" cy="173.5" r="1.3"/><circle cx="507.8" cy="224.8" r="1.3"/><circle cx="399.8" cy="173.1" r="1.3"/><circle cx="546.4" cy="250.9" r="1.3"/><circle cx="505.6" cy="234.1" r="1.3"/><circle cx="599.1" cy="272.8" r="1.3"/><circle cx="562.6" cy="172.9" r="1.3"/><circle cx="603.5" cy="249.7" r="1.3"/><circle cx="411.9" cy="140.1" r="1.3"/><circle cx="591.2" cy="252.8" r="1.3"/><circle cx="503.7" cy="269.5" r="1.3"/><circle cx="493.4" cy="217.3" r="1.3"/><circle cx="456.5" cy="217.8" r="1.3"/><circle cx="499.1" cy="227.9" r="1.3"/><circle cx="598.3" cy="261.3" r="1.3"/><circle cx="405.7" cy="171.4" r="1.3"/><circle cx="652.4" cy="277.7" r="1.3"/><circle cx="639.6" cy="245.3" r="1.3"/><circle cx="551.3" cy="202.8" r="1.3"/><circle cx="493.7" cy="214.5" r="1.3"/><circle cx="543.8" cy="243.0" r="1.3"/><circle cx="550.3" cy="228.5" r="1.3"/><circle cx="452.9" cy="190.2" r="1.3"/><circle cx="512.0" cy="224.6" r="1.3"/><circle cx="452.7" cy="211.9" r="1.3"/><circle cx="458.0" cy="184.9" r="1.3"/><circle cx="401.4" cy="177.1" r="1.3"/><circle cx="651.0" cy="247.0" r="1.3"/><circle cx="595.5" cy="218.0" r="1.3"/><circle cx="606.2" cy="280.9" r="1.3"/><circle cx="651.9" cy="285.3" r="1.3"/><circle cx="512.9" cy="214.8" r="1.3"/><circle cx="509.0" cy="200.7" r="1.3"/><circle cx="643.7" cy="262.5" r="1.3"/><circle cx="504.7" cy="217.3" r="1.3"/><circle cx="544.8" cy="256.2" r="1.3"/><circle cx="599.7" cy="227.6" r="1.3"/><circle cx="406.6" cy="167.1" r="1.3"/><circle cx="497.4" cy="219.6" r="1.3"/><circle cx="594.7" cy="277.2" r="1.3"/><circle cx="559.0" cy="240.1" r="1.3"/><circle cx="601.2" cy="272.3" r="1.3"/><circle cx="594.0" cy="229.7" r="1.3"/><circle cx="504.4" cy="229.4" r="1.3"/><circle cx="554.4" cy="214.9" r="1.3"/><circle cx="499.6" cy="216.2" r="1.3"/><circle cx="539.0" cy="239.3" r="1.3"/><circle cx="447.0" cy="207.5" r="1.3"/><circle cx="639.7" cy="240.7" r="1.3"/><circle cx="650.1" cy="246.7" r="1.3"/><circle cx="459.4" cy="210.1" r="1.3"/><circle cx="410.6" cy="170.6" r="1.3"/><circle cx="598.8" cy="254.9" r="1.3"/><circle cx="502.8" cy="221.9" r="1.3"/><circle cx="546.0" cy="261.7" r="1.3"/><circle cx="559.6" cy="263.5" r="1.3"/><circle cx="395.1" cy="171.4" r="1.3"/><circle cx="652.0" cy="244.0" r="1.3"/><circle cx="456.4" cy="198.2" r="1.3"/><circle cx="447.3" cy="209.8" r="1.3"/><circle cx="558.8" cy="229.2" r="1.3"/><circle cx="551.7" cy="266.5" r="1.3"/><circle cx="512.7" cy="214.1" r="1.3"/><circle cx="603.7" cy="250.3" r="1.3"/><circle cx="643.0" cy="281.8" r="1.3"/><circle cx="606.8" cy="216.1" r="1.3"/><circle cx="544.5" cy="238.9" r="1.3"/><circle cx="509.3" cy="215.0" r="1.3"/><circle cx="458.9" cy="179.2" r="1.3"/><circle cx="460.8" cy="234.5" r="1.3"/><circle cx="503.5" cy="243.3" r="1.3"/><circle cx="406.8" cy="234.2" r="1.3"/><circle cx="550.8" cy="214.5" r="1.3"/><circle cx="408.8" cy="185.9" r="1.3"/><circle cx="642.6" cy="251.3" r="1.3"/><circle cx="500.0" cy="226.4" r="1.3"/><circle cx="551.0" cy="250.3" r="1.3"/><circle cx="503.5" cy="229.8" r="1.3"/><circle cx="602.0" cy="231.9" r="1.3"/><circle cx="588.7" cy="292.6" r="1.3"/><circle cx="638.6" cy="263.9" r="1.3"/><circle cx="497.4" cy="185.8" r="1.3"/><circle cx="602.9" cy="263.2" r="1.3"/><circle cx="508.1" cy="228.7" r="1.3"/><circle cx="405.5" cy="202.2" r="1.3"/><circle cx="411.6" cy="141.9" r="1.3"/><circle cx="458.1" cy="152.0" r="1.3"/><circle cx="502.0" cy="251.6" r="1.3"/><circle cx="640.4" cy="285.7" r="1.3"/><circle cx="550.3" cy="264.2" r="1.3"/><circle cx="498.8" cy="254.0" r="1.3"/><circle cx="593.6" cy="268.8" r="1.3"/><circle cx="649.6" cy="232.4" r="1.3"/><circle cx="503.7" cy="231.7" r="1.3"/><circle cx="499.5" cy="223.3" r="1.3"/><circle cx="404.4" cy="198.8" r="1.3"/><circle cx="638.6" cy="291.8" r="1.3"/><circle cx="593.6" cy="273.4" r="1.3"/><circle cx="654.9" cy="255.4" r="1.3"/><circle cx="492.9" cy="235.4" r="1.3"/><circle cx="451.4" cy="204.7" r="1.3"/><circle cx="598.4" cy="256.1" r="1.3"/><circle cx="597.3" cy="282.9" r="1.3"/><circle cx="398.2" cy="191.9" r="1.3"/><circle cx="651.8" cy="254.9" r="1.3"/><circle cx="648.6" cy="206.7" r="1.3"/><circle cx="638.1" cy="269.1" r="1.3"/><circle cx="594.7" cy="254.8" r="1.3"/><circle cx="640.6" cy="264.4" r="1.3"/><circle cx="642.0" cy="238.1" r="1.3"/><circle cx="454.4" cy="228.1" r="1.3"/><circle cx="466.3" cy="163.4" r="1.3"/><circle cx="556.1" cy="251.1" r="1.3"/><circle cx="655.6" cy="244.1" r="1.3"/><circle cx="599.6" cy="257.0" r="1.3"/><circle cx="655.7" cy="277.2" r="1.3"/><circle cx="417.1" cy="167.6" r="1.3"/><circle cx="408.4" cy="194.8" r="1.3"/><circle cx="638.9" cy="262.9" r="1.3"/><circle cx="449.4" cy="175.8" r="1.3"/><circle cx="558.0" cy="227.9" r="1.3"/><circle cx="446.3" cy="212.5" r="1.3"/><circle cx="403.6" cy="155.4" r="1.3"/><circle cx="644.0" cy="250.4" r="1.3"/><circle cx="592.2" cy="280.6" r="1.3"/><circle cx="561.1" cy="208.4" r="1.3"/><circle cx="555.5" cy="228.1" r="1.3"/><circle cx="498.0" cy="196.5" r="1.3"/><circle cx="454.1" cy="222.1" r="1.3"/><circle cx="599.2" cy="263.1" r="1.3"/><circle cx="595.6" cy="242.2" r="1.3"/><circle cx="398.3" cy="188.4" r="1.3"/><circle cx="507.8" cy="222.3" r="1.3"/><circle cx="398.2" cy="228.2" r="1.3"/><circle cx="553.0" cy="265.9" r="1.3"/><circle cx="442.9" cy="224.6" r="1.3"/><circle cx="547.8" cy="265.1" r="1.3"/><circle cx="595.3" cy="232.8" r="1.3"/><circle cx="399.6" cy="184.1" r="1.3"/><circle cx="588.2" cy="211.7" r="1.3"/><circle cx="641.8" cy="221.6" r="1.3"/><circle cx="590.9" cy="278.1" r="1.3"/><circle cx="650.1" cy="237.8" r="1.3"/><circle cx="649.5" cy="215.1" r="1.3"/><circle cx="641.4" cy="280.6" r="1.3"/><circle cx="552.8" cy="259.3" r="1.3"/><circle cx="419.1" cy="153.9" r="1.3"/><circle cx="404.6" cy="153.6" r="1.3"/><circle cx="506.8" cy="260.9" r="1.3"/><circle cx="450.4" cy="219.5" r="1.3"/><circle cx="606.7" cy="245.4" r="1.3"/><circle cx="652.8" cy="239.8" r="1.3"/><circle cx="510.8" cy="256.9" r="1.3"/><circle cx="405.4" cy="172.7" r="1.3"/><circle cx="552.5" cy="213.9" r="1.3"/><circle cx="658.7" cy="243.5" r="1.3"/><circle cx="494.7" cy="184.7" r="1.3"/><circle cx="595.7" cy="231.5" r="1.3"/><circle cx="503.5" cy="224.1" r="1.3"/><circle cx="501.8" cy="202.8" r="1.3"/><circle cx="644.1" cy="280.0" r="1.3"/><circle cx="599.6" cy="225.2" r="1.3"/><circle cx="402.7" cy="165.4" r="1.3"/><circle cx="643.4" cy="269.8" r="1.3"/><circle cx="403.4" cy="162.3" r="1.3"/><circle cx="408.9" cy="224.9" r="1.3"/><circle cx="598.9" cy="259.8" r="1.3"/><circle cx="558.5" cy="250.3" r="1.3"/><circle cx="439.9" cy="210.5" r="1.3"/><circle cx="593.2" cy="297.9" r="1.3"/><circle cx="454.5" cy="199.5" r="1.3"/><circle cx="511.8" cy="232.7" r="1.3"/><circle cx="643.5" cy="214.6" r="1.3"/><circle cx="555.2" cy="273.2" r="1.3"/><circle cx="539.9" cy="228.8" r="1.3"/><circle cx="409.6" cy="162.5" r="1.3"/><circle cx="399.1" cy="194.3" r="1.3"/><circle cx="497.6" cy="219.8" r="1.3"/><circle cx="503.9" cy="244.4" r="1.3"/><circle cx="457.3" cy="158.5" r="1.3"/><circle cx="597.3" cy="255.2" r="1.3"/><circle cx="547.1" cy="240.5" r="1.3"/><circle cx="497.4" cy="241.1" r="1.3"/><circle cx="504.9" cy="244.2" r="1.3"/><circle cx="636.0" cy="243.6" r="1.3"/><circle cx="454.9" cy="220.7" r="1.3"/><circle cx="449.6" cy="153.8" r="1.3"/><circle cx="462.3" cy="241.8" r="1.3"/><circle cx="638.0" cy="242.5" r="1.3"/><circle cx="591.3" cy="256.6" r="1.3"/><circle cx="593.6" cy="220.9" r="1.3"/><circle cx="591.3" cy="284.0" r="1.3"/><circle cx="550.7" cy="258.4" r="1.3"/><circle cx="604.1" cy="255.0" r="1.3"/><circle cx="510.6" cy="251.6" r="1.3"/><circle cx="402.3" cy="187.2" r="1.3"/><circle cx="549.3" cy="225.6" r="1.3"/><circle cx="646.2" cy="224.9" r="1.3"/><circle cx="588.9" cy="219.2" r="1.3"/><circle cx="595.1" cy="280.3" r="1.3"/><circle cx="600.6" cy="277.4" r="1.3"/><circle cx="450.3" cy="186.4" r="1.3"/><circle cx="405.0" cy="200.9" r="1.3"/><circle cx="405.2" cy="205.0" r="1.3"/><circle cx="512.1" cy="237.2" r="1.3"/><circle cx="457.1" cy="198.2" r="1.3"/><circle cx="560.0" cy="232.9" r="1.3"/><circle cx="553.9" cy="260.1" r="1.3"/><circle cx="411.4" cy="132.5" r="1.3"/><circle cx="589.5" cy="248.0" r="1.3"/><circle cx="600.6" cy="261.9" r="1.3"/><circle cx="448.7" cy="197.0" r="1.3"/><circle cx="505.2" cy="243.5" r="1.3"/><circle cx="650.7" cy="254.4" r="1.3"/><circle cx="547.8" cy="232.7" r="1.3"/><circle cx="497.7" cy="194.6" r="1.3"/><circle cx="454.3" cy="194.2" r="1.3"/><circle cx="631.7" cy="264.3" r="1.3"/><circle cx="409.5" cy="201.3" r="1.3"/><circle cx="455.1" cy="191.3" r="1.3"/><circle cx="608.5" cy="275.3" r="1.3"/><circle cx="651.4" cy="288.0" r="1.3"/><circle cx="404.2" cy="211.6" r="1.3"/><circle cx="447.8" cy="201.4" r="1.3"/><circle cx="501.6" cy="231.2" r="1.3"/><circle cx="597.3" cy="226.8" r="1.3"/><circle cx="460.1" cy="199.9" r="1.3"/><circle cx="397.7" cy="209.4" r="1.3"/><circle cx="593.5" cy="290.6" r="1.3"/><circle cx="594.0" cy="251.0" r="1.3"/><circle cx="406.7" cy="168.0" r="1.3"/><circle cx="651.2" cy="252.1" r="1.3"/><circle cx="501.9" cy="195.4" r="1.3"/><circle cx="396.9" cy="172.5" r="1.3"/><circle cx="459.3" cy="198.9" r="1.3"/><circle cx="549.2" cy="255.4" r="1.3"/><circle cx="651.8" cy="244.8" r="1.3"/><circle cx="408.8" cy="211.8" r="1.3"/><circle cx="392.2" cy="192.4" r="1.3"/><circle cx="555.4" cy="251.9" r="1.3"/><circle cx="650.3" cy="287.6" r="1.3"/><circle cx="593.5" cy="248.4" r="1.3"/><circle cx="401.7" cy="193.0" r="1.3"/><circle cx="559.9" cy="213.5" r="1.3"/><circle cx="500.6" cy="207.4" r="1.3"/><circle cx="498.9" cy="240.4" r="1.3"/><circle cx="544.4" cy="247.1" r="1.3"/><circle cx="447.8" cy="203.5" r="1.3"/><circle cx="448.2" cy="230.4" r="1.3"/><circle cx="638.3" cy="241.2" r="1.3"/><circle cx="643.6" cy="261.6" r="1.3"/><circle cx="499.7" cy="219.8" r="1.3"/><circle cx="497.6" cy="242.0" r="1.3"/><circle cx="545.8" cy="247.7" r="1.3"/><circle cx="406.1" cy="191.3" r="1.3"/><circle cx="496.6" cy="220.2" r="1.3"/><circle cx="505.2" cy="234.0" r="1.3"/><circle cx="553.6" cy="266.5" r="1.3"/><circle cx="496.2" cy="247.1" r="1.3"/><circle cx="412.2" cy="216.9" r="1.3"/><circle cx="601.2" cy="262.4" r="1.3"/><circle cx="604.8" cy="285.9" r="1.3"/><circle cx="552.8" cy="232.5" r="1.3"/><circle cx="503.1" cy="206.1" r="1.3"/><circle cx="405.9" cy="151.1" r="1.3"/><circle cx="599.5" cy="259.3" r="1.3"/><circle cx="644.6" cy="249.9" r="1.3"/><circle cx="600.9" cy="288.6" r="1.3"/><circle cx="606.5" cy="268.0" r="1.3"/><circle cx="411.3" cy="184.2" r="1.3"/><circle cx="502.7" cy="215.9" r="1.3"/><circle cx="511.6" cy="220.1" r="1.3"/><circle cx="551.1" cy="263.2" r="1.3"/><circle cx="599.4" cy="267.5" r="1.3"/><circle cx="548.7" cy="247.8" r="1.3"/><circle cx="594.2" cy="243.5" r="1.3"/><circle cx="398.4" cy="201.3" r="1.3"/><circle cx="496.9" cy="223.3" r="1.3"/><circle cx="601.9" cy="280.5" r="1.3"/><circle cx="553.6" cy="244.4" r="1.3"/><circle cx="637.2" cy="244.7" r="1.3"/><circle cx="453.0" cy="219.0" r="1.3"/><circle cx="651.0" cy="264.8" r="1.3"/><circle cx="606.4" cy="273.2" r="1.3"/><circle cx="397.3" cy="190.3" r="1.3"/><circle cx="632.1" cy="269.1" r="1.3"/><circle cx="551.7" cy="204.1" r="1.3"/><circle cx="633.0" cy="251.4" r="1.3"/><circle cx="457.4" cy="222.8" r="1.3"/><circle cx="547.8" cy="207.4" r="1.3"/><circle cx="454.7" cy="168.2" r="1.3"/><circle cx="653.7" cy="262.7" r="1.3"/><circle cx="460.2" cy="185.6" r="1.3"/><circle cx="601.6" cy="273.6" r="1.3"/><circle cx="546.7" cy="237.8" r="1.3"/><circle cx="549.3" cy="205.4" r="1.3"/><circle cx="553.4" cy="214.5" r="1.3"/><circle cx="402.7" cy="163.3" r="1.3"/><circle cx="557.0" cy="247.1" r="1.3"/><circle cx="545.7" cy="242.1" r="1.3"/><circle cx="590.5" cy="259.8" r="1.3"/><circle cx="547.7" cy="249.3" r="1.3"/><circle cx="407.5" cy="158.4" r="1.3"/><circle cx="462.4" cy="192.7" r="1.3"/><circle cx="599.0" cy="232.0" r="1.3"/><circle cx="509.3" cy="205.9" r="1.3"/><circle cx="542.3" cy="277.2" r="1.3"/><circle cx="495.5" cy="208.2" r="1.3"/><circle cx="497.6" cy="222.5" r="1.3"/><circle cx="448.4" cy="203.1" r="1.3"/><circle cx="550.5" cy="257.5" r="1.3"/><circle cx="399.4" cy="198.2" r="1.3"/><circle cx="636.0" cy="249.2" r="1.3"/><circle cx="411.8" cy="163.4" r="1.3"/><circle cx="549.7" cy="275.5" r="1.3"/><circle cx="457.2" cy="215.7" r="1.3"/><circle cx="550.2" cy="247.7" r="1.3"/><circle cx="461.2" cy="207.1" r="1.3"/><circle cx="646.4" cy="244.5" r="1.3"/><circle cx="651.2" cy="245.2" r="1.3"/><circle cx="406.9" cy="202.4" r="1.3"/><circle cx="647.7" cy="257.9" r="1.3"/><circle cx="497.9" cy="213.5" r="1.3"/><circle cx="406.6" cy="203.0" r="1.3"/><circle cx="498.3" cy="254.1" r="1.3"/><circle cx="406.0" cy="185.2" r="1.3"/><circle cx="452.4" cy="199.5" r="1.3"/><circle cx="551.2" cy="257.8" r="1.3"/><circle cx="594.4" cy="235.1" r="1.3"/><circle cx="546.1" cy="276.7" r="1.3"/><circle cx="403.4" cy="180.0" r="1.3"/><circle cx="592.1" cy="245.9" r="1.3"/><circle cx="545.9" cy="266.5" r="1.3"/><circle cx="609.4" cy="247.5" r="1.3"/><circle cx="413.5" cy="176.1" r="1.3"/><circle cx="451.9" cy="234.2" r="1.3"/><circle cx="405.3" cy="175.9" r="1.3"/><circle cx="594.0" cy="257.4" r="1.3"/><circle cx="649.7" cy="225.4" r="1.3"/><circle cx="411.9" cy="206.2" r="1.3"/><circle cx="608.6" cy="278.4" r="1.3"/><circle cx="542.7" cy="242.8" r="1.3"/><circle cx="452.0" cy="195.6" r="1.3"/><circle cx="552.4" cy="243.7" r="1.3"/><circle cx="600.7" cy="217.8" r="1.3"/><circle cx="594.0" cy="293.1" r="1.3"/><circle cx="414.7" cy="206.4" r="1.3"/><circle cx="507.7" cy="198.0" r="1.3"/><circle cx="420.5" cy="180.5" r="1.3"/><circle cx="419.3" cy="182.1" r="1.3"/><circle cx="648.2" cy="221.8" r="1.3"/><circle cx="649.3" cy="244.5" r="1.3"/><circle cx="551.2" cy="227.0" r="1.3"/><circle cx="413.4" cy="136.5" r="1.3"/><circle cx="415.2" cy="193.8" r="1.3"/><circle cx="538.6" cy="219.9" r="1.3"/><circle cx="498.2" cy="232.2" r="1.3"/><circle cx="634.7" cy="242.9" r="1.3"/><circle cx="607.9" cy="240.9" r="1.3"/><circle cx="494.8" cy="215.6" r="1.3"/><circle cx="455.3" cy="212.5" r="1.3"/><circle cx="495.9" cy="254.5" r="1.3"/><circle cx="560.6" cy="248.3" r="1.3"/><circle cx="401.0" cy="173.8" r="1.3"/><circle cx="655.1" cy="277.2" r="1.3"/><circle cx="592.5" cy="276.2" r="1.3"/><circle cx="503.8" cy="182.3" r="1.3"/><circle cx="490.4" cy="216.5" r="1.3"/><circle cx="649.5" cy="287.4" r="1.3"/><circle cx="453.6" cy="203.8" r="1.3"/><circle cx="548.6" cy="266.5" r="1.3"/><circle cx="595.2" cy="218.4" r="1.3"/><circle cx="393.6" cy="153.1" r="1.3"/><circle cx="499.1" cy="218.6" r="1.3"/><circle cx="450.3" cy="212.8" r="1.3"/><circle cx="405.5" cy="141.2" r="1.3"/><circle cx="412.5" cy="156.2" r="1.3"/><circle cx="451.8" cy="215.1" r="1.3"/><circle cx="501.4" cy="203.3" r="1.3"/><circle cx="500.9" cy="238.2" r="1.3"/><circle cx="643.2" cy="237.4" r="1.3"/><circle cx="400.3" cy="171.8" r="1.3"/><circle cx="592.8" cy="248.5" r="1.3"/><circle cx="657.8" cy="264.4" r="1.3"/><circle cx="446.7" cy="206.5" r="1.3"/><circle cx="455.5" cy="219.8" r="1.3"/><circle cx="455.3" cy="185.9" r="1.3"/><circle cx="647.1" cy="277.8" r="1.3"/><circle cx="648.5" cy="268.9" r="1.3"/><circle cx="587.8" cy="277.6" r="1.3"/><circle cx="400.6" cy="150.5" r="1.3"/><circle cx="413.5" cy="168.9" r="1.3"/><circle cx="454.1" cy="247.3" r="1.3"/><circle cx="514.2" cy="230.9" r="1.3"/><circle cx="509.2" cy="243.9" r="1.3"/><circle cx="458.6" cy="150.9" r="1.3"/><circle cx="608.1" cy="238.8" r="1.3"/><circle cx="409.7" cy="176.1" r="1.3"/><circle cx="551.0" cy="251.5" r="1.3"/><circle cx="512.2" cy="238.1" r="1.3"/><circle cx="598.6" cy="244.8" r="1.3"/><circle cx="593.3" cy="256.3" r="1.3"/><circle cx="451.4" cy="220.5" r="1.3"/><circle cx="406.1" cy="161.9" r="1.3"/><circle cx="600.2" cy="240.0" r="1.3"/><circle cx="405.5" cy="167.3" r="1.3"/><circle cx="601.2" cy="248.1" r="1.3"/><circle cx="453.4" cy="192.6" r="1.3"/><circle cx="511.7" cy="226.3" r="1.3"/><circle cx="556.6" cy="243.5" r="1.3"/><circle cx="508.9" cy="182.6" r="1.3"/><circle cx="510.5" cy="237.7" r="1.3"/><circle cx="593.3" cy="273.8" r="1.3"/><circle cx="408.7" cy="179.6" r="1.3"/><circle cx="650.5" cy="246.9" r="1.3"/><circle cx="599.2" cy="281.5" r="1.3"/><circle cx="592.3" cy="213.2" r="1.3"/><circle cx="555.3" cy="199.3" r="1.3"/><circle cx="500.8" cy="219.3" r="1.3"/><circle cx="594.7" cy="261.5" r="1.3"/><circle cx="453.4" cy="207.2" r="1.3"/><circle cx="542.5" cy="250.9" r="1.3"/><circle cx="595.4" cy="272.1" r="1.3"/><circle cx="458.2" cy="188.7" r="1.3"/><circle cx="602.6" cy="242.7" r="1.3"/><circle cx="509.4" cy="217.4" r="1.3"/><circle cx="645.0" cy="267.7" r="1.3"/><circle cx="546.7" cy="240.8" r="1.3"/><circle cx="591.7" cy="255.9" r="1.3"/><circle cx="403.0" cy="189.3" r="1.3"/><circle cx="648.0" cy="268.7" r="1.3"/><circle cx="510.0" cy="231.2" r="1.3"/><circle cx="460.9" cy="229.1" r="1.3"/><circle cx="602.2" cy="253.0" r="1.3"/><circle cx="404.2" cy="169.5" r="1.3"/><circle cx="452.4" cy="211.8" r="1.3"/><circle cx="644.7" cy="243.1" r="1.3"/><circle cx="554.5" cy="264.2" r="1.3"/><circle cx="554.5" cy="237.8" r="1.3"/><circle cx="602.5" cy="244.5" r="1.3"/><circle cx="502.8" cy="227.5" r="1.3"/><circle cx="447.7" cy="202.4" r="1.3"/><circle cx="552.1" cy="225.2" r="1.3"/><circle cx="404.2" cy="154.8" r="1.3"/><circle cx="544.8" cy="238.0" r="1.3"/><circle cx="504.6" cy="211.2" r="1.3"/><circle cx="593.8" cy="252.8" r="1.3"/><circle cx="450.6" cy="201.9" r="1.3"/><circle cx="603.4" cy="219.6" r="1.3"/><circle cx="542.9" cy="266.5" r="1.3"/><circle cx="553.2" cy="245.0" r="1.3"/><circle cx="549.3" cy="265.5" r="1.3"/><circle cx="450.5" cy="215.6" r="1.3"/><circle cx="401.0" cy="214.4" r="1.3"/><circle cx="636.1" cy="202.4" r="1.3"/><circle cx="552.0" cy="275.2" r="1.3"/><circle cx="650.4" cy="219.4" r="1.3"/><circle cx="654.0" cy="281.0" r="1.3"/><circle cx="409.1" cy="188.1" r="1.3"/><circle cx="560.6" cy="256.4" r="1.3"/><circle cx="465.5" cy="196.1" r="1.3"/><circle cx="502.1" cy="199.2" r="1.3"/><circle cx="544.7" cy="263.6" r="1.3"/><circle cx="461.4" cy="204.7" r="1.3"/><circle cx="415.4" cy="215.5" r="1.3"/><circle cx="493.1" cy="232.6" r="1.3"/><circle cx="498.8" cy="220.9" r="1.3"/><circle cx="656.6" cy="256.1" r="1.3"/><circle cx="595.4" cy="257.2" r="1.3"/><circle cx="546.1" cy="217.1" r="1.3"/><circle cx="445.8" cy="225.9" r="1.3"/><circle cx="490.6" cy="200.8" r="1.3"/><circle cx="642.3" cy="251.0" r="1.3"/><circle cx="559.6" cy="260.5" r="1.3"/><circle cx="461.1" cy="236.8" r="1.3"/><circle cx="406.2" cy="190.1" r="1.3"/><circle cx="460.3" cy="248.6" r="1.3"/><circle cx="547.4" cy="248.1" r="1.3"/><circle cx="498.6" cy="228.6" r="1.3"/><circle cx="449.7" cy="186.8" r="1.3"/><circle cx="653.6" cy="241.9" r="1.3"/><circle cx="406.7" cy="195.6" r="1.3"/><circle cx="606.3" cy="234.7" r="1.3"/><circle cx="417.9" cy="187.7" r="1.3"/><circle cx="404.0" cy="197.1" r="1.3"/><circle cx="546.4" cy="206.0" r="1.3"/><circle cx="400.5" cy="214.5" r="1.3"/><circle cx="416.9" cy="158.4" r="1.3"/><circle cx="551.9" cy="217.3" r="1.3"/><circle cx="595.1" cy="279.7" r="1.3"/><circle cx="643.2" cy="248.2" r="1.3"/><circle cx="459.9" cy="219.5" r="1.3"/>
</g>
<g fill="#22a022" fill-opacity="0.22" stroke="#22a022" stroke-opacity="0.08" stroke-width="0.6">
<circle cx="411.9" cy="144.7" r="1.3"/><circle cx="411.9" cy="132.8" r="1.3"/><circle cx="495.4" cy="184.3" r="1.3"/><circle cx="410.6" cy="175.2" r="1.3"/><circle cx="494.9" cy="192.4" r="1.3"/><circle cx="641.3" cy="208.5" r="1.3"/><circle cx="643.0" cy="226.3" r="1.3"/><circle cx="598.3" cy="222.4" r="1.3"/><circle cx="549.1" cy="212.4" r="1.3"/><circle cx="465.2" cy="146.9" r="1.3"/><circle cx="454.0" cy="135.7" r="1.3"/><circle cx="652.1" cy="233.2" r="1.3"/><circle cx="456.0" cy="150.5" r="1.3"/><circle cx="594.5" cy="225.9" r="1.3"/><circle cx="602.1" cy="211.5" r="1.3"/><circle cx="539.2" cy="229.4" r="1.3"/><circle cx="587.2" cy="217.7" r="1.3"/><circle cx="549.3" cy="183.1" r="1.3"/><circle cx="499.8" cy="191.1" r="1.3"/><circle cx="555.5" cy="206.0" r="1.3"/><circle cx="409.1" cy="158.0" r="1.3"/><circle cx="548.2" cy="166.5" r="1.3"/><circle cx="406.1" cy="144.0" r="1.3"/><circle cx="590.0" cy="223.9" r="1.3"/><circle cx="491.1" cy="173.6" r="1.3"/><circle cx="403.1" cy="163.6" r="1.3"/><circle cx="509.6" cy="176.6" r="1.3"/><circle cx="413.9" cy="183.1" r="1.3"/><circle cx="603.6" cy="218.4" r="1.3"/><circle cx="412.7" cy="138.3" r="1.3"/><circle cx="551.4" cy="228.5" r="1.3"/><circle cx="546.5" cy="239.0" r="1.3"/><circle cx="646.0" cy="236.8" r="1.3"/><circle cx="508.8" cy="204.8" r="1.3"/><circle cx="548.8" cy="204.6" r="1.3"/><circle cx="549.7" cy="229.7" r="1.3"/><circle cx="548.6" cy="184.8" r="1.3"/><circle cx="445.1" cy="172.4" r="1.3"/><circle cx="410.2" cy="183.9" r="1.3"/><circle cx="549.1" cy="215.7" r="1.3"/><circle cx="409.5" cy="157.8" r="1.3"/><circle cx="415.5" cy="124.1" r="1.3"/><circle cx="399.5" cy="142.6" r="1.3"/><circle cx="501.8" cy="178.6" r="1.3"/><circle cx="401.9" cy="129.6" r="1.3"/><circle cx="645.3" cy="212.6" r="1.3"/><circle cx="445.1" cy="167.6" r="1.3"/><circle cx="516.6" cy="196.7" r="1.3"/><circle cx="417.1" cy="134.9" r="1.3"/><circle cx="547.1" cy="220.8" r="1.3"/><circle cx="449.4" cy="179.1" r="1.3"/><circle cx="639.4" cy="227.3" r="1.3"/><circle cx="553.9" cy="213.9" r="1.3"/><circle cx="408.9" cy="167.3" r="1.3"/><circle cx="542.4" cy="217.9" r="1.3"/><circle cx="454.8" cy="130.7" r="1.3"/><circle cx="403.5" cy="156.7" r="1.3"/><circle cx="453.5" cy="153.3" r="1.3"/><circle cx="601.9" cy="209.1" r="1.3"/><circle cx="604.0" cy="235.9" r="1.3"/><circle cx="553.4" cy="187.7" r="1.3"/><circle cx="503.1" cy="152.7" r="1.3"/><circle cx="538.7" cy="215.3" r="1.3"/><circle cx="404.3" cy="150.8" r="1.3"/><circle cx="452.3" cy="180.6" r="1.3"/><circle cx="644.9" cy="229.4" r="1.3"/><circle cx="404.6" cy="145.0" r="1.3"/><circle cx="555.0" cy="203.1" r="1.3"/><circle cx="458.1" cy="154.5" r="1.3"/><circle cx="502.1" cy="173.3" r="1.3"/><circle cx="602.1" cy="224.7" r="1.3"/><circle cx="544.8" cy="215.6" r="1.3"/><circle cx="494.3" cy="199.5" r="1.3"/><circle cx="590.9" cy="244.7" r="1.3"/><circle cx="398.3" cy="137.9" r="1.3"/><circle cx="398.6" cy="169.2" r="1.3"/><circle cx="457.3" cy="185.0" r="1.3"/><circle cx="649.8" cy="238.3" r="1.3"/><circle cx="549.8" cy="207.9" r="1.3"/><circle cx="594.2" cy="245.1" r="1.3"/><circle cx="461.2" cy="143.8" r="1.3"/><circle cx="650.6" cy="236.0" r="1.3"/><circle cx="489.7" cy="193.2" r="1.3"/><circle cx="407.0" cy="171.0" r="1.3"/><circle cx="407.9" cy="117.7" r="1.3"/><circle cx="441.5" cy="168.9" r="1.3"/><circle cx="650.0" cy="216.8" r="1.3"/><circle cx="408.6" cy="149.6" r="1.3"/><circle cx="656.3" cy="218.8" r="1.3"/><circle cx="452.4" cy="192.5" r="1.3"/><circle cx="603.6" cy="199.1" r="1.3"/><circle cx="507.3" cy="167.4" r="1.3"/><circle cx="556.2" cy="224.8" r="1.3"/><circle cx="462.8" cy="186.1" r="1.3"/><circle cx="654.6" cy="224.8" r="1.3"/><circle cx="640.3" cy="211.2" r="1.3"/><circle cx="397.2" cy="164.1" r="1.3"/><circle cx="511.7" cy="219.0" r="1.3"/><circle cx="406.7" cy="123.1" r="1.3"/><circle cx="593.5" cy="208.7" r="1.3"/><circle cx="501.3" cy="195.4" r="1.3"/><circle cx="464.4" cy="173.9" r="1.3"/><circle cx="452.2" cy="198.6" r="1.3"/><circle cx="587.6" cy="259.4" r="1.3"/><circle cx="659.7" cy="230.7" r="1.3"/><circle cx="632.1" cy="217.0" r="1.3"/><circle cx="600.4" cy="216.7" r="1.3"/><circle cx="554.8" cy="212.5" r="1.3"/><circle cx="600.6" cy="227.2" r="1.3"/><circle cx="446.2" cy="147.5" r="1.3"/><circle cx="450.9" cy="163.8" r="1.3"/><circle cx="596.3" cy="198.7" r="1.3"/><circle cx="448.4" cy="178.7" r="1.3"/><circle cx="502.3" cy="162.7" r="1.3"/><circle cx="508.0" cy="192.6" r="1.3"/><circle cx="500.6" cy="164.3" r="1.3"/><circle cx="606.9" cy="218.0" r="1.3"/><circle cx="406.2" cy="160.7" r="1.3"/><circle cx="410.0" cy="142.8" r="1.3"/><circle cx="557.7" cy="183.4" r="1.3"/><circle cx="504.9" cy="195.3" r="1.3"/><circle cx="457.3" cy="161.7" r="1.3"/><circle cx="596.6" cy="217.5" r="1.3"/><circle cx="498.4" cy="207.2" r="1.3"/><circle cx="554.8" cy="208.6" r="1.3"/><circle cx="502.5" cy="202.0" r="1.3"/><circle cx="462.6" cy="136.7" r="1.3"/><circle cx="399.0" cy="176.0" r="1.3"/><circle cx="643.4" cy="244.0" r="1.3"/><circle cx="590.6" cy="210.5" r="1.3"/><circle cx="410.6" cy="138.4" r="1.3"/><circle cx="403.5" cy="126.6" r="1.3"/><circle cx="511.0" cy="278.0" r="1.3"/><circle cx="401.1" cy="174.1" r="1.3"/><circle cx="506.6" cy="199.3" r="1.3"/><circle cx="402.0" cy="134.1" r="1.3"/><circle cx="596.3" cy="238.6" r="1.3"/><circle cx="498.0" cy="295.0" r="1.3"/><circle cx="653.1" cy="240.5" r="1.3"/><circle cx="537.3" cy="196.7" r="1.3"/><circle cx="501.7" cy="159.2" r="1.3"/><circle cx="500.1" cy="162.4" r="1.3"/><circle cx="459.5" cy="171.0" r="1.3"/><circle cx="408.7" cy="150.7" r="1.3"/><circle cx="597.2" cy="246.2" r="1.3"/><circle cx="561.8" cy="231.5" r="1.3"/><circle cx="410.9" cy="172.7" r="1.3"/><circle cx="458.5" cy="149.5" r="1.3"/><circle cx="458.3" cy="186.8" r="1.3"/><circle cx="538.3" cy="199.5" r="1.3"/><circle cx="652.7" cy="251.0" r="1.3"/><circle cx="585.2" cy="208.3" r="1.3"/><circle cx="496.3" cy="174.9" r="1.3"/><circle cx="601.2" cy="204.9" r="1.3"/><circle cx="403.4" cy="133.1" r="1.3"/><circle cx="493.6" cy="166.0" r="1.3"/><circle cx="406.5" cy="160.3" r="1.3"/><circle cx="646.2" cy="201.8" r="1.3"/><circle cx="406.0" cy="166.3" r="1.3"/><circle cx="405.1" cy="150.8" r="1.3"/><circle cx="450.2" cy="190.6" r="1.3"/><circle cx="493.8" cy="198.5" r="1.3"/><circle cx="555.6" cy="360.0" r="1.3"/><circle cx="542.6" cy="196.2" r="1.3"/><circle cx="462.4" cy="137.3" r="1.3"/><circle cx="455.8" cy="201.1" r="1.3"/><circle cx="599.2" cy="218.2" r="1.3"/><circle cx="598.0" cy="231.2" r="1.3"/><circle cx="552.0" cy="212.0" r="1.3"/><circle cx="499.8" cy="160.8" r="1.3"/><circle cx="644.2" cy="210.0" r="1.3"/><circle cx="452.0" cy="265.0" r="1.3"/><circle cx="403.9" cy="126.7" r="1.3"/><circle cx="450.5" cy="164.9" r="1.3"/><circle cx="648.4" cy="219.2" r="1.3"/><circle cx="409.9" cy="143.8" r="1.3"/><circle cx="403.7" cy="168.2" r="1.3"/><circle cx="499.3" cy="177.3" r="1.3"/><circle cx="417.0" cy="146.4" r="1.3"/><circle cx="633.0" cy="230.4" r="1.3"/><circle cx="415.3" cy="177.0" r="1.3"/><circle cx="549.4" cy="212.6" r="1.3"/><circle cx="400.6" cy="154.5" r="1.3"/><circle cx="443.7" cy="156.0" r="1.3"/><circle cx="411.0" cy="179.5" r="1.3"/><circle cx="553.6" cy="205.8" r="1.3"/><circle cx="446.5" cy="155.0" r="1.3"/><circle cx="543.2" cy="204.3" r="1.3"/><circle cx="544.7" cy="167.7" r="1.3"/><circle cx="641.4" cy="253.2" r="1.3"/><circle cx="609.3" cy="216.5" r="1.3"/><circle cx="497.7" cy="202.8" r="1.3"/><circle cx="407.6" cy="161.2" r="1.3"/><circle cx="597.3" cy="228.4" r="1.3"/><circle cx="408.1" cy="137.4" r="1.3"/><circle cx="608.1" cy="224.5" r="1.3"/><circle cx="505.3" cy="164.1" r="1.3"/><circle cx="591.8" cy="238.1" r="1.3"/><circle cx="408.9" cy="151.0" r="1.3"/><circle cx="450.3" cy="227.7" r="1.3"/><circle cx="408.9" cy="140.0" r="1.3"/><circle cx="455.1" cy="186.6" r="1.3"/><circle cx="603.1" cy="232.3" r="1.3"/><circle cx="413.0" cy="159.9" r="1.3"/><circle cx="597.6" cy="213.9" r="1.3"/><circle cx="645.0" cy="215.9" r="1.3"/><circle cx="500.7" cy="203.5" r="1.3"/><circle cx="557.6" cy="181.5" r="1.3"/><circle cx="596.7" cy="214.7" r="1.3"/><circle cx="397.7" cy="154.5" r="1.3"/><circle cx="546.9" cy="216.1" r="1.3"/><circle cx="638.5" cy="228.4" r="1.3"/><circle cx="462.6" cy="177.5" r="1.3"/><circle cx="645.2" cy="240.5" r="1.3"/><circle cx="594.4" cy="225.5" r="1.3"/><circle cx="465.1" cy="176.4" r="1.3"/><circle cx="648.2" cy="228.4" r="1.3"/><circle cx="597.3" cy="208.1" r="1.3"/><circle cx="646.2" cy="206.8" r="1.3"/><circle cx="398.6" cy="140.0" r="1.3"/><circle cx="607.2" cy="212.1" r="1.3"/><circle cx="501.7" cy="162.9" r="1.3"/><circle cx="508.6" cy="182.8" r="1.3"/><circle cx="553.6" cy="182.6" r="1.3"/><circle cx="407.2" cy="160.1" r="1.3"/><circle cx="597.0" cy="206.4" r="1.3"/><circle cx="502.4" cy="193.3" r="1.3"/><circle cx="446.0" cy="272.0" r="1.3"/><circle cx="464.5" cy="173.9" r="1.3"/><circle cx="597.4" cy="236.0" r="1.3"/><circle cx="599.1" cy="238.4" r="1.3"/><circle cx="451.7" cy="194.4" r="1.3"/><circle cx="503.7" cy="209.0" r="1.3"/><circle cx="502.0" cy="196.6" r="1.3"/><circle cx="501.6" cy="183.6" r="1.3"/><circle cx="451.9" cy="167.0" r="1.3"/><circle cx="509.4" cy="198.8" r="1.3"/><circle cx="553.5" cy="214.7" r="1.3"/><circle cx="412.7" cy="138.4" r="1.3"/><circle cx="505.5" cy="209.5" r="1.3"/><circle cx="500.0" cy="172.5" r="1.3"/><circle cx="554.7" cy="222.3" r="1.3"/><circle cx="497.8" cy="205.5" r="1.3"/><circle cx="413.3" cy="164.2" r="1.3"/><circle cx="447.0" cy="139.8" r="1.3"/><circle cx="506.8" cy="178.4" r="1.3"/><circle cx="645.3" cy="233.2" r="1.3"/><circle cx="546.9" cy="168.6" r="1.3"/><circle cx="499.5" cy="163.4" r="1.3"/><circle cx="552.2" cy="167.5" r="1.3"/><circle cx="644.8" cy="236.5" r="1.3"/><circle cx="609.1" cy="202.3" r="1.3"/><circle cx="541.4" cy="186.5" r="1.3"/><circle cx="403.3" cy="159.4" r="1.3"/><circle cx="636.7" cy="232.7" r="1.3"/><circle cx="558.7" cy="211.6" r="1.3"/><circle cx="453.6" cy="172.0" r="1.3"/><circle cx="403.1" cy="120.5" r="1.3"/><circle cx="604.9" cy="254.3" r="1.3"/><circle cx="558.1" cy="218.8" r="1.3"/><circle cx="449.7" cy="145.2" r="1.3"/><circle cx="444.1" cy="150.6" r="1.3"/><circle cx="595.5" cy="313.0" r="1.3"/><circle cx="417.4" cy="166.2" r="1.3"/><circle cx="587.7" cy="238.1" r="1.3"/><circle cx="400.0" cy="164.0" r="1.3"/><circle cx="399.0" cy="175.6" r="1.3"/><circle cx="500.0" cy="177.6" r="1.3"/><circle cx="402.8" cy="175.3" r="1.3"/><circle cx="450.2" cy="147.5" r="1.3"/><circle cx="644.4" cy="234.0" r="1.3"/><circle cx="554.5" cy="221.8" r="1.3"/><circle cx="409.2" cy="148.7" r="1.3"/><circle cx="551.7" cy="225.5" r="1.3"/><circle cx="593.4" cy="212.5" r="1.3"/><circle cx="544.2" cy="198.6" r="1.3"/><circle cx="460.0" cy="182.0" r="1.3"/><circle cx="648.6" cy="208.7" r="1.3"/><circle cx="555.4" cy="206.5" r="1.3"/><circle cx="398.0" cy="135.5" r="1.3"/><circle cx="451.1" cy="197.7" r="1.3"/><circle cx="409.7" cy="147.4" r="1.3"/><circle cx="503.3" cy="186.9" r="1.3"/><circle cx="447.2" cy="182.2" r="1.3"/><circle cx="562.5" cy="170.4" r="1.3"/><circle cx="453.3" cy="166.1" r="1.3"/><circle cx="460.3" cy="177.7" r="1.3"/><circle cx="507.3" cy="165.7" r="1.3"/><circle cx="505.2" cy="194.3" r="1.3"/><circle cx="407.3" cy="150.9" r="1.3"/><circle cx="606.1" cy="206.7" r="1.3"/><circle cx="411.0" cy="132.3" r="1.3"/><circle cx="500.3" cy="209.2" r="1.3"/><circle cx="647.6" cy="238.7" r="1.3"/><circle cx="587.3" cy="239.3" r="1.3"/><circle cx="544.9" cy="182.9" r="1.3"/><circle cx="601.7" cy="217.4" r="1.3"/><circle cx="453.0" cy="154.5" r="1.3"/><circle cx="546.3" cy="207.9" r="1.3"/><circle cx="408.7" cy="145.0" r="1.3"/><circle cx="551.6" cy="246.6" r="1.3"/><circle cx="412.9" cy="156.6" r="1.3"/><circle cx="408.7" cy="155.5" r="1.3"/><circle cx="495.6" cy="196.9" r="1.3"/><circle cx="492.4" cy="173.9" r="1.3"/><circle cx="498.1" cy="199.6" r="1.3"/><circle cx="402.1" cy="143.2" r="1.3"/><circle cx="544.2" cy="206.1" r="1.3"/><circle cx="548.4" cy="203.0" r="1.3"/><circle cx="644.6" cy="215.0" r="1.3"/><circle cx="651.6" cy="249.5" r="1.3"/><circle cx="591.7" cy="211.5" r="1.3"/><circle cx="501.2" cy="170.9" r="1.3"/><circle cx="457.5" cy="160.3" r="1.3"/><circle cx="649.9" cy="241.1" r="1.3"/><circle cx="595.4" cy="231.0" r="1.3"/><circle cx="599.6" cy="210.4" r="1.3"/><circle cx="450.7" cy="193.0" r="1.3"/><circle cx="407.0" cy="143.8" r="1.3"/><circle cx="414.6" cy="181.4" r="1.3"/><circle cx="453.3" cy="187.8" r="1.3"/><circle cx="549.0" cy="169.5" r="1.3"/><circle cx="604.2" cy="239.7" r="1.3"/><circle cx="651.9" cy="236.8" r="1.3"/><circle cx="396.7" cy="148.6" r="1.3"/><circle cx="596.3" cy="254.5" r="1.3"/><circle cx="407.7" cy="139.1" r="1.3"/><circle cx="412.7" cy="140.2" r="1.3"/><circle cx="549.6" cy="208.0" r="1.3"/><circle cx="651.9" cy="211.3" r="1.3"/><circle cx="641.4" cy="237.1" r="1.3"/><circle cx="561.0" cy="181.3" r="1.3"/><circle cx="559.8" cy="219.1" r="1.3"/><circle cx="508.5" cy="217.4" r="1.3"/><circle cx="456.1" cy="196.4" r="1.3"/><circle cx="445.5" cy="183.3" r="1.3"/><circle cx="401.4" cy="166.2" r="1.3"/><circle cx="458.8" cy="155.7" r="1.3"/><circle cx="585.9" cy="216.0" r="1.3"/><circle cx="490.9" cy="187.1" r="1.3"/><circle cx="643.4" cy="226.5" r="1.3"/><circle cx="586.4" cy="231.6" r="1.3"/><circle cx="504.0" cy="187.0" r="1.3"/><circle cx="405.0" cy="137.9" r="1.3"/><circle cx="552.3" cy="206.4" r="1.3"/><circle cx="638.0" cy="234.7" r="1.3"/><circle cx="455.8" cy="196.8" r="1.3"/><circle cx="454.3" cy="157.9" r="1.3"/><circle cx="589.3" cy="261.4" r="1.3"/><circle cx="537.5" cy="222.6" r="1.3"/><circle cx="500.5" cy="195.3" r="1.3"/><circle cx="595.0" cy="240.7" r="1.3"/><circle cx="446.2" cy="164.0" r="1.3"/><circle cx="417.3" cy="152.4" r="1.3"/><circle cx="443.6" cy="150.7" r="1.3"/><circle cx="506.9" cy="170.5" r="1.3"/><circle cx="601.4" cy="235.4" r="1.3"/><circle cx="402.8" cy="148.8" r="1.3"/><circle cx="548.3" cy="199.8" r="1.3"/><circle cx="451.2" cy="163.0" r="1.3"/><circle cx="399.2" cy="161.3" r="1.3"/><circle cx="595.9" cy="238.1" r="1.3"/><circle cx="596.2" cy="218.6" r="1.3"/><circle cx="504.5" cy="185.4" r="1.3"/><circle cx="552.0" cy="212.3" r="1.3"/><circle cx="586.3" cy="213.5" r="1.3"/><circle cx="604.4" cy="219.3" r="1.3"/><circle cx="505.5" cy="187.2" r="1.3"/>
</g>
<g fill="#a020f0" fill-opacity="0.21" stroke="#a020f0" stroke-opacity="0.08" stroke-width="0.6">
<circle cx="409.3" cy="132.4" r="1.3"/><circle cx="444.6" cy="140.6" r="1.3"/><circle cx="466.5" cy="134.5" r="1.3"/><circle cx="415.3" cy="133.3" r="1.3"/><circle cx="587.5" cy="182.2" r="1.3"/><circle cx="503.7" cy="187.7" r="1.3"/><circle cx="602.1" cy="187.4" r="1.3"/><circle cx="591.8" cy="137.3" r="1.3"/><circle cx="505.0" cy="151.5" r="1.3"/><circle cx="559.1" cy="176.8" r="1.3"/><circle cx="643.0" cy="183.2" r="1.3"/><circle cx="552.1" cy="161.8" r="1.3"/><circle cx="646.9" cy="204.4" r="1.3"/><circle cx="397.3" cy="45.4" r="1.3"/><circle cx="409.4" cy="124.1" r="1.3"/><circle cx="507.8" cy="153.9" r="1.3"/><circle cx="641.6" cy="172.9" r="1.3"/><circle cx="641.4" cy="205.3" r="1.3"/><circle cx="602.4" cy="272.1" r="1.3"/><circle cx="642.6" cy="177.7" r="1.3"/><circle cx="558.7" cy="130.8" r="1.3"/><circle cx="455.2" cy="133.2" r="1.3"/><circle cx="495.0" cy="167.4" r="1.3"/><circle cx="584.4" cy="159.3" r="1.3"/><circle cx="507.0" cy="97.9" r="1.3"/><circle cx="453.9" cy="125.9" r="1.3"/><circle cx="453.5" cy="140.3" r="1.3"/><circle cx="408.4" cy="139.1" r="1.3"/><circle cx="654.4" cy="217.2" r="1.3"/><circle cx="598.5" cy="281.2" r="1.3"/><circle cx="405.9" cy="130.6" r="1.3"/><circle cx="548.0" cy="120.0" r="1.3"/><circle cx="602.6" cy="282.4" r="1.3"/><circle cx="399.0" cy="113.7" r="1.3"/><circle cx="640.6" cy="185.2" r="1.3"/><circle cx="400.8" cy="125.3" r="1.3"/><circle cx="507.7" cy="258.6" r="1.3"/><circle cx="553.1" cy="179.3" r="1.3"/><circle cx="406.9" cy="127.2" r="1.3"/><circle cx="507.4" cy="178.8" r="1.3"/><circle cx="554.0" cy="276.4" r="1.3"/><circle cx="552.9" cy="188.7" r="1.3"/><circle cx="641.2" cy="285.6" r="1.3"/><circle cx="451.6" cy="151.6" r="1.3"/><circle cx="553.0" cy="202.0" r="1.3"/><circle cx="641.0" cy="273.3" r="1.3"/><circle cx="602.7" cy="162.8" r="1.3"/><circle cx="641.0" cy="207.3" r="1.3"/><circle cx="459.2" cy="240.6" r="1.3"/><circle cx="410.5" cy="155.4" r="1.3"/><circle cx="496.5" cy="120.5" r="1.3"/><circle cx="453.8" cy="153.3" r="1.3"/><circle cx="402.9" cy="59.7" r="1.3"/><circle cx="598.0" cy="157.5" r="1.3"/><circle cx="542.9" cy="176.5" r="1.3"/><circle cx="584.7" cy="163.9" r="1.3"/><circle cx="603.8" cy="167.0" r="1.3"/><circle cx="595.7" cy="153.5" r="1.3"/><circle cx="549.7" cy="187.6" r="1.3"/><circle cx="408.1" cy="110.6" r="1.3"/><circle cx="497.8" cy="157.1" r="1.3"/><circle cx="503.3" cy="152.7" r="1.3"/><circle cx="650.3" cy="275.2" r="1.3"/><circle cx="586.0" cy="169.3" r="1.3"/><circle cx="440.9" cy="128.6" r="1.3"/><circle cx="408.0" cy="121.8" r="1.3"/><circle cx="560.0" cy="177.7" r="1.3"/><circle cx="405.4" cy="105.1" r="1.3"/><circle cx="504.8" cy="159.8" r="1.3"/><circle cx="642.1" cy="278.8" r="1.3"/><circle cx="599.0" cy="185.5" r="1.3"/><circle cx="450.4" cy="150.6" r="1.3"/><circle cx="411.4" cy="216.2" r="1.3"/><circle cx="499.1" cy="114.1" r="1.3"/><circle cx="502.8" cy="182.8" r="1.3"/><circle cx="557.1" cy="188.2" r="1.3"/><circle cx="498.6" cy="270.6" r="1.3"/><circle cx="547.2" cy="136.5" r="1.3"/><circle cx="410.8" cy="105.8" r="1.3"/><circle cx="596.3" cy="155.3" r="1.3"/><circle cx="410.5" cy="126.4" r="1.3"/><circle cx="406.4" cy="134.0" r="1.3"/><circle cx="458.9" cy="243.7" r="1.3"/><circle cx="509.7" cy="176.9" r="1.3"/><circle cx="460.8" cy="158.0" r="1.3"/><circle cx="507.4" cy="167.1" r="1.3"/><circle cx="598.8" cy="181.8" r="1.3"/><circle cx="603.9" cy="161.2" r="1.3"/><circle cx="453.8" cy="58.7" r="1.3"/><circle cx="643.5" cy="274.2" r="1.3"/><circle cx="603.3" cy="148.7" r="1.3"/><circle cx="409.7" cy="126.5" r="1.3"/><circle cx="633.4" cy="216.6" r="1.3"/><circle cx="549.0" cy="176.1" r="1.3"/><circle cx="638.6" cy="156.2" r="1.3"/><circle cx="402.6" cy="108.9" r="1.3"/><circle cx="603.9" cy="164.5" r="1.3"/><circle cx="406.3" cy="122.0" r="1.3"/><circle cx="595.2" cy="165.5" r="1.3"/><circle cx="544.7" cy="182.8" r="1.3"/><circle cx="550.7" cy="193.1" r="1.3"/><circle cx="553.7" cy="264.1" r="1.3"/><circle cx="596.1" cy="280.6" r="1.3"/><circle cx="546.7" cy="176.3" r="1.3"/><circle cx="593.8" cy="166.2" r="1.3"/><circle cx="413.4" cy="115.3" r="1.3"/><circle cx="547.2" cy="273.9" r="1.3"/><circle cx="651.7" cy="276.1" r="1.3"/><circle cx="595.3" cy="167.3" r="1.3"/><circle cx="513.4" cy="166.9" r="1.3"/><circle cx="555.0" cy="185.4" r="1.3"/><circle cx="601.2" cy="161.4" r="1.3"/><circle cx="452.5" cy="244.1" r="1.3"/><circle cx="510.5" cy="159.9" r="1.3"/><circle cx="406.7" cy="212.7" r="1.3"/><circle cx="636.9" cy="216.3" r="1.3"/><circle cx="643.4" cy="275.1" r="1.3"/><circle cx="609.3" cy="178.7" r="1.3"/><circle cx="595.9" cy="179.4" r="1.3"/><circle cx="499.5" cy="262.1" r="1.3"/><circle cx="451.2" cy="99.6" r="1.3"/><circle cx="405.4" cy="39.8" r="1.3"/><circle cx="409.9" cy="224.5" r="1.3"/><circle cx="649.1" cy="213.6" r="1.3"/><circle cx="459.9" cy="144.4" r="1.3"/><circle cx="450.4" cy="149.7" r="1.3"/><circle cx="646.4" cy="193.0" r="1.3"/><circle cx="413.1" cy="207.5" r="1.3"/><circle cx="493.9" cy="256.5" r="1.3"/><circle cx="410.9" cy="127.8" r="1.3"/><circle cx="506.9" cy="170.2" r="1.3"/><circle cx="411.0" cy="50.0" r="1.3"/><circle cx="505.3" cy="245.2" r="1.3"/><circle cx="549.2" cy="180.6" r="1.3"/><circle cx="451.8" cy="111.6" r="1.3"/><circle cx="404.5" cy="102.4" r="1.3"/><circle cx="405.4" cy="127.5" r="1.3"/><circle cx="451.9" cy="159.1" r="1.3"/><circle cx="592.1" cy="278.5" r="1.3"/><circle cx="584.4" cy="185.5" r="1.3"/><circle cx="645.1" cy="153.1" r="1.3"/><circle cx="599.4" cy="196.3" r="1.3"/><circle cx="446.1" cy="237.3" r="1.3"/><circle cx="639.4" cy="189.2" r="1.3"/><circle cx="540.6" cy="160.9" r="1.3"/><circle cx="409.1" cy="122.7" r="1.3"/><circle cx="550.2" cy="128.5" r="1.3"/><circle cx="452.5" cy="95.8" r="1.3"/><circle cx="400.2" cy="107.1" r="1.3"/><circle cx="550.1" cy="183.8" r="1.3"/><circle cx="642.2" cy="274.9" r="1.3"/><circle cx="455.4" cy="143.8" r="1.3"/><circle cx="505.7" cy="166.0" r="1.3"/><circle cx="559.5" cy="174.0" r="1.3"/><circle cx="500.6" cy="159.4" r="1.3"/><circle cx="448.0" cy="233.9" r="1.3"/><circle cx="603.0" cy="175.5" r="1.3"/><circle cx="595.2" cy="165.0" r="1.3"/><circle cx="397.8" cy="121.0" r="1.3"/><circle cx="587.7" cy="189.1" r="1.3"/><circle cx="456.0" cy="172.0" r="1.3"/><circle cx="494.7" cy="167.8" r="1.3"/><circle cx="502.4" cy="175.8" r="1.3"/><circle cx="599.5" cy="271.0" r="1.3"/><circle cx="543.6" cy="265.6" r="1.3"/><circle cx="538.9" cy="255.9" r="1.3"/><circle cx="497.8" cy="264.5" r="1.3"/><circle cx="513.0" cy="148.0" r="1.3"/><circle cx="597.0" cy="164.4" r="1.3"/><circle cx="456.9" cy="135.6" r="1.3"/><circle cx="502.3" cy="156.6" r="1.3"/><circle cx="600.3" cy="173.0" r="1.3"/><circle cx="547.2" cy="170.4" r="1.3"/><circle cx="455.6" cy="227.5" r="1.3"/><circle cx="640.9" cy="208.0" r="1.3"/><circle cx="598.9" cy="191.3" r="1.3"/><circle cx="496.3" cy="171.3" r="1.3"/><circle cx="544.8" cy="256.8" r="1.3"/><circle cx="548.3" cy="166.8" r="1.3"/><circle cx="400.7" cy="124.0" r="1.3"/><circle cx="599.9" cy="268.1" r="1.3"/><circle cx="395.0" cy="209.0" r="1.3"/><circle cx="406.9" cy="124.5" r="1.3"/><circle cx="501.7" cy="162.6" r="1.3"/><circle cx="413.3" cy="138.8" r="1.3"/><circle cx="555.3" cy="170.6" r="1.3"/><circle cx="401.6" cy="108.6" r="1.3"/><circle cx="548.5" cy="165.8" r="1.3"/><circle cx="453.4" cy="155.5" r="1.3"/><circle cx="599.1" cy="177.0" r="1.3"/><circle cx="558.0" cy="206.4" r="1.3"/><circle cx="637.6" cy="274.7" r="1.3"/><circle cx="650.9" cy="272.1" r="1.3"/><circle cx="455.6" cy="101.4" r="1.3"/><circle cx="653.9" cy="152.2" r="1.3"/><circle cx="591.7" cy="183.9" r="1.3"/><circle cx="554.9" cy="206.2" r="1.3"/><circle cx="413.8" cy="232.0" r="1.3"/><circle cx="393.7" cy="113.4" r="1.3"/><circle cx="547.4" cy="161.2" r="1.3"/><circle cx="649.3" cy="209.2" r="1.3"/><circle cx="589.6" cy="162.0" r="1.3"/><circle cx="548.7" cy="169.5" r="1.3"/><circle cx="646.2" cy="279.8" r="1.3"/><circle cx="646.4" cy="280.8" r="1.3"/><circle cx="404.4" cy="119.5" r="1.3"/><circle cx="605.1" cy="179.0" r="1.3"/><circle cx="548.6" cy="188.3" r="1.3"/><circle cx="592.8" cy="156.7" r="1.3"/><circle cx="551.8" cy="258.9" r="1.3"/><circle cx="554.6" cy="161.8" r="1.3"/><circle cx="594.5" cy="185.6" r="1.3"/><circle cx="457.0" cy="137.7" r="1.3"/><circle cx="504.2" cy="259.2" r="1.3"/><circle cx="594.4" cy="162.8" r="1.3"/><circle cx="596.6" cy="164.2" r="1.3"/><circle cx="652.5" cy="210.6" r="1.3"/><circle cx="607.0" cy="184.9" r="1.3"/><circle cx="405.9" cy="121.1" r="1.3"/><circle cx="597.7" cy="178.8" r="1.3"/><circle cx="499.0" cy="179.0" r="1.3"/><circle cx="456.5" cy="148.0" r="1.3"/><circle cx="589.9" cy="168.1" r="1.3"/><circle cx="450.9" cy="127.1" r="1.3"/><circle cx="583.6" cy="195.4" r="1.3"/><circle cx="552.4" cy="172.8" r="1.3"/><circle cx="455.2" cy="159.6" r="1.3"/><circle cx="552.2" cy="185.1" r="1.3"/><circle cx="412.5" cy="117.8" r="1.3"/><circle cx="441.8" cy="129.4" r="1.3"/><circle cx="553.7" cy="162.4" r="1.3"/><circle cx="508.4" cy="169.2" r="1.3"/><circle cx="410.6" cy="115.3" r="1.3"/><circle cx="507.2" cy="124.8" r="1.3"/><circle cx="599.8" cy="133.2" r="1.3"/><circle cx="502.4" cy="186.7" r="1.3"/><circle cx="601.8" cy="191.0" r="1.3"/><circle cx="451.6" cy="153.6" r="1.3"/><circle cx="595.7" cy="168.4" r="1.3"/><circle cx="611.0" cy="171.8" r="1.3"/><circle cx="598.5" cy="147.4" r="1.3"/><circle cx="604.2" cy="171.3" r="1.3"/><circle cx="646.0" cy="152.1" r="1.3"/><circle cx="460.7" cy="149.0" r="1.3"/><circle cx="596.9" cy="278.1" r="1.3"/><circle cx="458.2" cy="146.8" r="1.3"/><circle cx="404.4" cy="105.2" r="1.3"/><circle cx="604.6" cy="270.1" r="1.3"/><circle cx="404.9" cy="105.4" r="1.3"/><circle cx="453.3" cy="140.9" r="1.3"/><circle cx="413.6" cy="44.2" r="1.3"/><circle cx="489.4" cy="163.4" r="1.3"/><circle cx="648.4" cy="190.0" r="1.3"/><circle cx="492.4" cy="150.9" r="1.3"/><circle cx="501.9" cy="156.5" r="1.3"/><circle cx="404.7" cy="117.2" r="1.3"/><circle cx="458.5" cy="145.9" r="1.3"/><circle cx="548.3" cy="168.0" r="1.3"/><circle cx="454.4" cy="145.4" r="1.3"/><circle cx="509.1" cy="175.0" r="1.3"/><circle cx="405.0" cy="137.2" r="1.3"/><circle cx="450.0" cy="67.3" r="1.3"/><circle cx="510.3" cy="151.6" r="1.3"/><circle cx="546.0" cy="175.9" r="1.3"/><circle cx="459.3" cy="139.7" r="1.3"/><circle cx="536.7" cy="165.0" r="1.3"/><circle cx="509.8" cy="158.0" r="1.3"/><circle cx="611.7" cy="189.9" r="1.3"/><circle cx="497.1" cy="259.5" r="1.3"/><circle cx="503.5" cy="269.6" r="1.3"/><circle cx="402.4" cy="131.5" r="1.3"/><circle cx="651.1" cy="176.7" r="1.3"/><circle cx="403.8" cy="100.5" r="1.3"/><circle cx="540.0" cy="184.3" r="1.3"/><circle cx="506.0" cy="120.0" r="1.3"/><circle cx="557.6" cy="189.9" r="1.3"/><circle cx="412.7" cy="120.5" r="1.3"/><circle cx="402.3" cy="228.9" r="1.3"/><circle cx="460.2" cy="84.1" r="1.3"/><circle cx="409.2" cy="223.9" r="1.3"/><circle cx="548.2" cy="181.3" r="1.3"/><circle cx="555.0" cy="194.2" r="1.3"/><circle cx="552.7" cy="127.8" r="1.3"/><circle cx="646.8" cy="212.4" r="1.3"/><circle cx="603.2" cy="169.8" r="1.3"/><circle cx="597.5" cy="142.7" r="1.3"/><circle cx="459.4" cy="148.5" r="1.3"/><circle cx="499.6" cy="108.3" r="1.3"/><circle cx="649.2" cy="187.6" r="1.3"/><circle cx="412.3" cy="137.1" r="1.3"/><circle cx="506.9" cy="136.3" r="1.3"/><circle cx="451.2" cy="231.0" r="1.3"/><circle cx="406.2" cy="53.1" r="1.3"/><circle cx="401.2" cy="113.9" r="1.3"/><circle cx="493.4" cy="179.0" r="1.3"/><circle cx="602.4" cy="162.0" r="1.3"/><circle cx="464.8" cy="158.3" r="1.3"/><circle cx="549.2" cy="174.1" r="1.3"/><circle cx="495.8" cy="109.6" r="1.3"/><circle cx="396.5" cy="48.5" r="1.3"/><circle cx="554.5" cy="170.2" r="1.3"/><circle cx="551.3" cy="176.8" r="1.3"/><circle cx="643.9" cy="272.6" r="1.3"/><circle cx="651.4" cy="170.5" r="1.3"/><circle cx="402.3" cy="214.6" r="1.3"/><circle cx="401.7" cy="120.3" r="1.3"/><circle cx="546.3" cy="161.1" r="1.3"/><circle cx="559.0" cy="134.4" r="1.3"/><circle cx="546.4" cy="267.9" r="1.3"/><circle cx="496.4" cy="163.8" r="1.3"/><circle cx="504.3" cy="248.8" r="1.3"/><circle cx="406.8" cy="127.8" r="1.3"/><circle cx="411.6" cy="134.4" r="1.3"/><circle cx="508.6" cy="170.1" r="1.3"/><circle cx="512.5" cy="177.5" r="1.3"/><circle cx="646.3" cy="275.9" r="1.3"/><circle cx="455.5" cy="153.8" r="1.3"/><circle cx="399.8" cy="53.6" r="1.3"/><circle cx="499.3" cy="168.4" r="1.3"/><circle cx="458.7" cy="157.2" r="1.3"/><circle cx="594.3" cy="283.2" r="1.3"/><circle cx="495.1" cy="157.4" r="1.3"/><circle cx="602.9" cy="192.3" r="1.3"/><circle cx="596.8" cy="207.6" r="1.3"/><circle cx="555.2" cy="131.1" r="1.3"/><circle cx="541.8" cy="168.4" r="1.3"/><circle cx="408.2" cy="211.6" r="1.3"/><circle cx="602.7" cy="178.9" r="1.3"/><circle cx="549.8" cy="161.7" r="1.3"/><circle cx="455.8" cy="95.3" r="1.3"/><circle cx="458.9" cy="164.3" r="1.3"/><circle cx="506.8" cy="156.3" r="1.3"/><circle cx="401.4" cy="104.9" r="1.3"/><circle cx="412.4" cy="119.9" r="1.3"/><circle cx="645.7" cy="283.9" r="1.3"/><circle cx="451.3" cy="144.3" r="1.3"/><circle cx="506.0" cy="155.8" r="1.3"/><circle cx="497.4" cy="150.3" r="1.3"/><circle cx="635.1" cy="225.4" r="1.3"/><circle cx="543.5" cy="178.9" r="1.3"/><circle cx="504.2" cy="144.5" r="1.3"/><circle cx="600.0" cy="164.6" r="1.3"/><circle cx="541.2" cy="173.5" r="1.3"/><circle cx="593.9" cy="161.9" r="1.3"/><circle cx="556.2" cy="138.6" r="1.3"/><circle cx="599.5" cy="199.8" r="1.3"/><circle cx="640.4" cy="264.0" r="1.3"/><circle cx="449.2" cy="96.8" r="1.3"/><circle cx="591.9" cy="168.7" r="1.3"/><circle cx="453.0" cy="78.5" r="1.3"/><circle cx="395.8" cy="120.3" r="1.3"/><circle cx="602.3" cy="275.0" r="1.3"/><circle cx="543.4" cy="265.9" r="1.3"/><circle cx="552.6" cy="188.0" r="1.3"/><circle cx="651.1" cy="197.1" r="1.3"/><circle cx="418.7" cy="222.0" r="1.3"/><circle cx="509.0" cy="113.6" r="1.3"/><circle cx="603.2" cy="283.2" r="1.3"/><circle cx="603.6" cy="181.1" r="1.3"/><circle cx="640.0" cy="277.2" r="1.3"/><circle cx="453.7" cy="130.4" r="1.3"/><circle cx="512.0" cy="159.6" r="1.3"/><circle cx="462.2" cy="157.1" r="1.3"/><circle cx="590.5" cy="274.6" r="1.3"/><circle cx="409.6" cy="114.3" r="1.3"/><circle cx="452.5" cy="155.5" r="1.3"/><circle cx="555.8" cy="174.6" r="1.3"/><circle cx="453.5" cy="165.5" r="1.3"/><circle cx="456.3" cy="71.4" r="1.3"/><circle cx="451.1" cy="161.2" r="1.3"/><circle cx="395.8" cy="138.5" r="1.3"/><circle cx="562.5" cy="168.4" r="1.3"/><circle cx="447.7" cy="163.8" r="1.3"/><circle cx="457.3" cy="150.0" r="1.3"/><circle cx="641.7" cy="269.1" r="1.3"/><circle cx="400.2" cy="131.6" r="1.3"/><circle cx="659.3" cy="181.0" r="1.3"/><circle cx="455.8" cy="84.1" r="1.3"/><circle cx="405.4" cy="115.3" r="1.3"/><circle cx="594.7" cy="274.5" r="1.3"/><circle cx="593.5" cy="184.1" r="1.3"/><circle cx="448.0" cy="226.4" r="1.3"/><circle cx="552.2" cy="137.1" r="1.3"/><circle cx="534.5" cy="283.0" r="1.3"/><circle cx="494.1" cy="169.6" r="1.3"/><circle cx="540.8" cy="263.8" r="1.3"/><circle cx="462.1" cy="165.3" r="1.3"/><circle cx="509.9" cy="160.1" r="1.3"/><circle cx="461.4" cy="90.5" r="1.3"/><circle cx="652.4" cy="205.6" r="1.3"/><circle cx="448.2" cy="127.1" r="1.3"/><circle cx="498.4" cy="268.9" r="1.3"/><circle cx="554.0" cy="145.9" r="1.3"/><circle cx="646.0" cy="155.6" r="1.3"/><circle cx="463.6" cy="157.8" r="1.3"/><circle cx="601.3" cy="272.6" r="1.3"/><circle cx="512.6" cy="248.1" r="1.3"/><circle cx="416.7" cy="127.0" r="1.3"/><circle cx="456.4" cy="227.2" r="1.3"/><circle cx="448.1" cy="139.8" r="1.3"/><circle cx="505.4" cy="163.9" r="1.3"/><circle cx="499.2" cy="166.5" r="1.3"/><circle cx="647.3" cy="191.4" r="1.3"/><circle cx="506.0" cy="161.7" r="1.3"/><circle cx="552.7" cy="193.4" r="1.3"/><circle cx="510.0" cy="164.2" r="1.3"/><circle cx="604.7" cy="192.0" r="1.3"/><circle cx="653.0" cy="190.5" r="1.3"/><circle cx="501.6" cy="116.2" r="1.3"/><circle cx="652.7" cy="195.1" r="1.3"/><circle cx="552.3" cy="173.6" r="1.3"/><circle cx="601.3" cy="177.3" r="1.3"/><circle cx="403.6" cy="120.1" r="1.3"/><circle cx="655.0" cy="172.8" r="1.3"/><circle cx="396.8" cy="129.6" r="1.3"/><circle cx="503.0" cy="145.3" r="1.3"/><circle cx="601.5" cy="140.7" r="1.3"/><circle cx="550.1" cy="255.2" r="1.3"/><circle cx="408.9" cy="136.8" r="1.3"/><circle cx="444.1" cy="147.5" r="1.3"/><circle cx="602.9" cy="271.2" r="1.3"/><circle cx="593.0" cy="195.8" r="1.3"/><circle cx="505.2" cy="164.2" r="1.3"/><circle cx="406.0" cy="98.8" r="1.3"/><circle cx="495.9" cy="256.7" r="1.3"/><circle cx="600.1" cy="159.8" r="1.3"/><circle cx="509.1" cy="150.0" r="1.3"/><circle cx="556.5" cy="163.2" r="1.3"/><circle cx="644.1" cy="266.7" r="1.3"/><circle cx="399.2" cy="115.8" r="1.3"/><circle cx="641.5" cy="280.9" r="1.3"/><circle cx="499.4" cy="169.5" r="1.3"/><circle cx="642.9" cy="170.4" r="1.3"/><circle cx="443.9" cy="151.6" r="1.3"/><circle cx="454.1" cy="159.2" r="1.3"/><circle cx="601.6" cy="179.6" r="1.3"/><circle cx="605.1" cy="179.7" r="1.3"/><circle cx="596.5" cy="273.6" r="1.3"/><circle cx="555.7" cy="125.7" r="1.3"/><circle cx="542.4" cy="174.7" r="1.3"/><circle cx="499.1" cy="121.3" r="1.3"/><circle cx="466.7" cy="138.8" r="1.3"/><circle cx="457.7" cy="237.4" r="1.3"/><circle cx="405.7" cy="123.3" r="1.3"/><circle cx="642.6" cy="175.8" r="1.3"/><circle cx="549.6" cy="168.8" r="1.3"/><circle cx="554.4" cy="136.8" r="1.3"/><circle cx="592.3" cy="153.6" r="1.3"/><circle cx="604.6" cy="149.0" r="1.3"/><circle cx="646.3" cy="198.7" r="1.3"/><circle cx="411.0" cy="113.3" r="1.3"/><circle cx="399.4" cy="210.5" r="1.3"/><circle cx="497.7" cy="152.5" r="1.3"/><circle cx="552.8" cy="138.7" r="1.3"/><circle cx="457.1" cy="105.8" r="1.3"/><circle cx="558.7" cy="180.8" r="1.3"/><circle cx="644.5" cy="208.3" r="1.3"/><circle cx="595.7" cy="170.3" r="1.3"/><circle cx="498.5" cy="165.3" r="1.3"/><circle cx="556.7" cy="181.1" r="1.3"/><circle cx="412.9" cy="122.1" r="1.3"/><circle cx="451.6" cy="152.3" r="1.3"/><circle cx="549.8" cy="184.9" r="1.3"/><circle cx="458.1" cy="153.1" r="1.3"/><circle cx="505.3" cy="175.8" r="1.3"/><circle cx="600.9" cy="174.9" r="1.3"/><circle cx="456.1" cy="161.4" r="1.3"/><circle cx="548.7" cy="174.4" r="1.3"/><circle cx="651.6" cy="201.5" r="1.3"/><circle cx="493.4" cy="260.2" r="1.3"/><circle cx="603.6" cy="165.5" r="1.3"/><circle cx="446.6" cy="164.8" r="1.3"/><circle cx="404.9" cy="106.1" r="1.3"/><circle cx="501.3" cy="168.3" r="1.3"/><circle cx="602.7" cy="170.3" r="1.3"/><circle cx="644.8" cy="277.8" r="1.3"/><circle cx="591.8" cy="268.2" r="1.3"/><circle cx="395.6" cy="219.0" r="1.3"/><circle cx="558.8" cy="137.8" r="1.3"/><circle cx="403.7" cy="47.5" r="1.3"/><circle cx="602.6" cy="162.3" r="1.3"/><circle cx="404.9" cy="111.5" r="1.3"/><circle cx="447.3" cy="240.1" r="1.3"/><circle cx="552.7" cy="169.6" r="1.3"/><circle cx="587.0" cy="277.1" r="1.3"/><circle cx="593.2" cy="269.3" r="1.3"/><circle cx="404.0" cy="216.0" r="1.3"/><circle cx="549.4" cy="169.0" r="1.3"/><circle cx="549.2" cy="181.7" r="1.3"/><circle cx="447.6" cy="140.4" r="1.3"/><circle cx="496.3" cy="170.5" r="1.3"/><circle cx="405.8" cy="119.6" r="1.3"/><circle cx="597.5" cy="274.3" r="1.3"/><circle cx="448.6" cy="150.9" r="1.3"/><circle cx="487.4" cy="124.3" r="1.3"/><circle cx="446.5" cy="158.7" r="1.3"/><circle cx="556.2" cy="175.9" r="1.3"/><circle cx="511.2" cy="177.7" r="1.3"/><circle cx="447.2" cy="240.4" r="1.3"/><circle cx="509.1" cy="153.5" r="1.3"/><circle cx="501.6" cy="109.6" r="1.3"/><circle cx="591.5" cy="192.0" r="1.3"/><circle cx="646.5" cy="181.7" r="1.3"/><circle cx="502.9" cy="250.3" r="1.3"/><circle cx="507.4" cy="177.1" r="1.3"/><circle cx="398.1" cy="128.2" r="1.3"/><circle cx="508.8" cy="164.2" r="1.3"/><circle cx="407.2" cy="112.5" r="1.3"/><circle cx="402.7" cy="128.4" r="1.3"/><circle cx="548.0" cy="274.8" r="1.3"/><circle cx="500.8" cy="193.0" r="1.3"/><circle cx="597.0" cy="162.6" r="1.3"/><circle cx="563.4" cy="265.3" r="1.3"/><circle cx="549.5" cy="258.3" r="1.3"/><circle cx="413.9" cy="104.4" r="1.3"/><circle cx="646.2" cy="272.2" r="1.3"/><circle cx="504.4" cy="84.1" r="1.3"/><circle cx="544.1" cy="165.6" r="1.3"/><circle cx="548.3" cy="270.0" r="1.3"/><circle cx="412.3" cy="121.4" r="1.3"/><circle cx="548.6" cy="144.1" r="1.3"/><circle cx="649.1" cy="275.3" r="1.3"/><circle cx="507.4" cy="165.6" r="1.3"/><circle cx="651.5" cy="282.7" r="1.3"/><circle cx="547.6" cy="268.3" r="1.3"/><circle cx="640.6" cy="274.0" r="1.3"/><circle cx="495.7" cy="167.8" r="1.3"/><circle cx="501.4" cy="168.0" r="1.3"/><circle cx="501.4" cy="171.8" r="1.3"/><circle cx="643.5" cy="198.1" r="1.3"/><circle cx="601.4" cy="161.0" r="1.3"/><circle cx="460.7" cy="131.1" r="1.3"/><circle cx="553.3" cy="194.3" r="1.3"/><circle cx="641.1" cy="184.1" r="1.3"/><circle cx="645.5" cy="195.1" r="1.3"/><circle cx="643.6" cy="170.4" r="1.3"/><circle cx="643.8" cy="278.5" r="1.3"/><circle cx="547.8" cy="260.5" r="1.3"/><circle cx="598.7" cy="152.6" r="1.3"/><circle cx="457.6" cy="66.3" r="1.3"/><circle cx="409.1" cy="104.6" r="1.3"/><circle cx="407.4" cy="121.3" r="1.3"/><circle cx="602.1" cy="166.9" r="1.3"/><circle cx="409.3" cy="46.2" r="1.3"/><circle cx="595.0" cy="176.4" r="1.3"/><circle cx="643.9" cy="202.6" r="1.3"/><circle cx="605.7" cy="193.0" r="1.3"/><circle cx="631.3" cy="210.1" r="1.3"/><circle cx="406.7" cy="108.6" r="1.3"/><circle cx="549.4" cy="260.6" r="1.3"/><circle cx="606.7" cy="178.8" r="1.3"/><circle cx="637.2" cy="225.3" r="1.3"/><circle cx="549.3" cy="174.8" r="1.3"/><circle cx="556.4" cy="187.7" r="1.3"/><circle cx="410.6" cy="116.5" r="1.3"/><circle cx="561.1" cy="181.8" r="1.3"/><circle cx="460.6" cy="146.6" r="1.3"/><circle cx="562.6" cy="173.2" r="1.3"/><circle cx="457.9" cy="141.5" r="1.3"/><circle cx="544.4" cy="145.6" r="1.3"/><circle cx="649.6" cy="204.3" r="1.3"/><circle cx="408.2" cy="219.9" r="1.3"/><circle cx="406.6" cy="208.6" r="1.3"/><circle cx="406.2" cy="35.3" r="1.3"/><circle cx="552.7" cy="198.1" r="1.3"/><circle cx="453.0" cy="159.9" r="1.3"/><circle cx="635.5" cy="220.1" r="1.3"/><circle cx="399.5" cy="114.5" r="1.3"/><circle cx="453.5" cy="119.2" r="1.3"/><circle cx="406.2" cy="214.0" r="1.3"/><circle cx="492.3" cy="174.1" r="1.3"/><circle cx="504.2" cy="110.8" r="1.3"/><circle cx="451.9" cy="233.6" r="1.3"/><circle cx="592.7" cy="146.1" r="1.3"/><circle cx="642.1" cy="199.8" r="1.3"/><circle cx="593.9" cy="140.1" r="1.3"/><circle cx="505.0" cy="178.2" r="1.3"/><circle cx="638.7" cy="263.4" r="1.3"/><circle cx="642.7" cy="161.4" r="1.3"/><circle cx="589.3" cy="161.3" r="1.3"/><circle cx="594.4" cy="163.6" r="1.3"/><circle cx="544.4" cy="104.2" r="1.3"/><circle cx="596.3" cy="179.5" r="1.3"/><circle cx="456.4" cy="133.1" r="1.3"/><circle cx="539.4" cy="172.8" r="1.3"/><circle cx="463.2" cy="121.0" r="1.3"/><circle cx="641.4" cy="207.5" r="1.3"/><circle cx="504.5" cy="243.7" r="1.3"/><circle cx="412.2" cy="129.4" r="1.3"/><circle cx="502.9" cy="114.1" r="1.3"/><circle cx="552.2" cy="205.5" r="1.3"/><circle cx="535.9" cy="176.4" r="1.3"/><circle cx="646.5" cy="285.2" r="1.3"/><circle cx="463.5" cy="165.5" r="1.3"/><circle cx="401.4" cy="135.8" r="1.3"/><circle cx="447.9" cy="179.7" r="1.3"/><circle cx="459.8" cy="148.0" r="1.3"/><circle cx="633.0" cy="263.6" r="1.3"/><circle cx="412.6" cy="66.6" r="1.3"/><circle cx="498.3" cy="141.1" r="1.3"/><circle cx="596.6" cy="203.4" r="1.3"/><circle cx="459.6" cy="150.4" r="1.3"/><circle cx="559.6" cy="262.5" r="1.3"/><circle cx="507.6" cy="161.3" r="1.3"/><circle cx="400.5" cy="103.1" r="1.3"/><circle cx="636.3" cy="179.4" r="1.3"/><circle cx="498.3" cy="167.3" r="1.3"/><circle cx="452.8" cy="138.0" r="1.3"/><circle cx="462.7" cy="124.3" r="1.3"/><circle cx="500.4" cy="155.6" r="1.3"/><circle cx="495.0" cy="178.4" r="1.3"/><circle cx="512.9" cy="172.4" r="1.3"/><circle cx="649.5" cy="274.0" r="1.3"/><circle cx="554.9" cy="141.0" r="1.3"/><circle cx="647.4" cy="221.2" r="1.3"/><circle cx="444.4" cy="113.6" r="1.3"/><circle cx="464.5" cy="94.6" r="1.3"/><circle cx="559.2" cy="124.2" r="1.3"/><circle cx="652.3" cy="283.5" r="1.3"/><circle cx="593.4" cy="175.2" r="1.3"/><circle cx="410.6" cy="137.2" r="1.3"/><circle cx="458.5" cy="149.8" r="1.3"/><circle cx="443.9" cy="126.8" r="1.3"/><circle cx="604.7" cy="173.6" r="1.3"/><circle cx="561.7" cy="170.5" r="1.3"/><circle cx="444.9" cy="152.0" r="1.3"/><circle cx="409.8" cy="101.1" r="1.3"/><circle cx="407.9" cy="228.4" r="1.3"/><circle cx="414.9" cy="113.6" r="1.3"/><circle cx="407.9" cy="135.0" r="1.3"/><circle cx="546.9" cy="170.4" r="1.3"/><circle cx="555.2" cy="169.2" r="1.3"/><circle cx="605.0" cy="189.0" r="1.3"/><circle cx="502.6" cy="168.3" r="1.3"/><circle cx="413.8" cy="118.6" r="1.3"/><circle cx="445.7" cy="141.6" r="1.3"/><circle cx="649.1" cy="204.9" r="1.3"/><circle cx="505.2" cy="240.1" r="1.3"/><circle cx="405.2" cy="118.4" r="1.3"/><circle cx="454.6" cy="227.7" r="1.3"/><circle cx="496.8" cy="180.5" r="1.3"/><circle cx="456.2" cy="136.5" r="1.3"/><circle cx="450.0" cy="71.9" r="1.3"/><circle cx="450.8" cy="168.6" r="1.3"/><circle cx="405.6" cy="103.0" r="1.3"/><circle cx="416.4" cy="128.5" r="1.3"/><circle cx="461.6" cy="128.8" r="1.3"/><circle cx="634.7" cy="185.1" r="1.3"/><circle cx="592.0" cy="196.4" r="1.3"/><circle cx="453.7" cy="134.6" r="1.3"/><circle cx="456.6" cy="151.7" r="1.3"/><circle cx="552.8" cy="273.2" r="1.3"/><circle cx="494.3" cy="258.8" r="1.3"/><circle cx="646.4" cy="276.7" r="1.3"/><circle cx="502.1" cy="123.1" r="1.3"/><circle cx="647.7" cy="204.0" r="1.3"/><circle cx="404.1" cy="146.6" r="1.3"/><circle cx="598.5" cy="275.9" r="1.3"/><circle cx="402.9" cy="64.0" r="1.3"/><circle cx="398.6" cy="116.3" r="1.3"/><circle cx="644.3" cy="200.2" r="1.3"/>
</g>
</g>
<path d="M167.6 246.2L358.79999999999995 246.4V264.6L167.6 264.4Z" fill="#000" fill-opacity="0.13"/>
<path d="M406.59999999999997 156.5L597.8 230.6V249.6L406.59999999999997 173.5Z" fill="#daa520" fill-opacity="0.15"/>
<path d="M406.59999999999997 138L597.8 213.3V234.3L406.59999999999997 154Z" fill="#22a022" fill-opacity="0.12"/>
<path d="M406.59999999999997 139.2L597.8 202.9V223.9L406.59999999999997 158.2Z" fill="#a020f0" fill-opacity="0.14"/>
<rect x="633.1999999999999" y="226" width="24.8" height="31" fill="#daa520" fill-opacity="0.15"/>
<rect x="633.1999999999999" y="206.5" width="24.8" height="32" fill="#22a022" fill-opacity="0.12"/>
<rect x="633.1999999999999" y="185.3" width="24.8" height="33.6" fill="#a020f0" fill-opacity="0.14"/>
<rect x="59.4" y="262.5" width="25.2" height="9" fill="#000" fill-opacity="0.1"/>
<path d="M59.1 267.1L83.9 267.1" stroke="#000" stroke-width="1.6" fill="none"/>
<path d="M107.2 246.6L132.4 246.6" stroke="#000" stroke-width="1.6" fill="none"/>
<path d="M167.6 255.1L358.8 255.6" stroke="#000" stroke-width="1.6" fill="none"/>
<path d="M406.6 165L597.8 240.1" stroke="#daa520" stroke-width="1.8" fill="none"/>
<path d="M406.6 146L597.8 223.8" stroke="#22a022" stroke-width="1.8" fill="none"/>
<path d="M406.6 148.7L597.8 213.4" stroke="#a020f0" stroke-width="1.8" fill="none"/>
<path d="M633.2 242.8L658.0 242.8" stroke="#daa520" stroke-width="1.8" fill="none"/>
<path d="M633.2 223L658.0 223" stroke="#22a022" stroke-width="1.8" fill="none"/>
<path d="M633.2 201.8L658.0 201.8" stroke="#a020f0" stroke-width="1.8" fill="none"/>
<path d="M48.8 0V419.95H670" fill="none" stroke="#444" stroke-width="1.05" stroke-linejoin="round"/><path d="M44 16.5H49M44 69.5H49M44 77.6H49M44 86.6H49M44 96.8H49M44 108.5H49M44 122.5H49M44 139.5H49M44 161.5H49M44 192.5H49M44 245.5H49M44 253.6H49M44 262.6H49M44 272.8H49M44 284.5H49M44 298.5H49M44 315.5H49M44 337.5H49M44 368.5H49M72.0 420V424.6M119.8 420V424.6M167.6 420V424.6M215.4 420V424.6M263.2 420V424.6M311.0 420V424.6M358.8 420V424.6M406.6 420V424.6M454.4 420V424.6M502.2 420V424.6M550.0 420V424.6M597.8 420V424.6M645.6 420V424.6" fill="none" stroke="#444" stroke-width="1.1"/>
<g font-size="10.8"><text x="42.8" y="20.4" text-anchor="end">20</text><text x="42.8" y="73.4" text-anchor="end">10</text><text x="42.8" y="81.5" text-anchor="end">9</text><text x="42.8" y="90.5" text-anchor="end">8</text><text x="42.8" y="100.7" text-anchor="end">7</text><text x="42.8" y="112.4" text-anchor="end">6</text><text x="42.8" y="126.4" text-anchor="end">5</text><text x="42.8" y="143.4" text-anchor="end">4</text><text x="42.8" y="165.4" text-anchor="end">3</text><text x="42.8" y="196.4" text-anchor="end">2</text><text x="42.8" y="249.4" text-anchor="end">1</text><text x="42.8" y="257.5" text-anchor="end">0.9</text><text x="42.8" y="266.5" text-anchor="end">0.8</text><text x="42.8" y="276.7" text-anchor="end">0.7</text><text x="42.8" y="288.4" text-anchor="end">0.6</text><text x="42.8" y="302.4" text-anchor="end">0.5</text><text x="42.8" y="319.4" text-anchor="end">0.4</text><text x="42.8" y="341.4" text-anchor="end">0.3</text><text x="42.8" y="372.4" text-anchor="end">0.2</text></g>
<g font-size="13.2"><text transform="translate(70.8 436.8) scale(0.91 1)" text-anchor="middle">U</text><text transform="translate(118.6 436.8) scale(0.91 1)" text-anchor="middle">R</text><text transform="translate(167.4 436.8) scale(0.91 1)" text-anchor="middle">W<tspan font-size="7.6" dy="4.2">1</tspan></text><text transform="translate(215.2 436.8) scale(0.91 1)" text-anchor="middle">W<tspan font-size="7.6" dy="4.2">2</tspan></text><text transform="translate(263.0 436.8) scale(0.91 1)" text-anchor="middle">W<tspan font-size="7.6" dy="4.2">3</tspan></text><text transform="translate(310.8 436.8) scale(0.91 1)" text-anchor="middle">W<tspan font-size="7.6" dy="4.2">4</tspan></text><text transform="translate(358.6 436.8) scale(0.91 1)" text-anchor="middle">W<tspan font-size="7.6" dy="4.2">5</tspan></text><text transform="translate(406.4 436.8) scale(0.91 1)" text-anchor="middle">X<tspan font-size="7.6" dy="4.2">1</tspan></text><text transform="translate(454.2 436.8) scale(0.91 1)" text-anchor="middle">X<tspan font-size="7.6" dy="4.2">2</tspan></text><text transform="translate(502.0 436.8) scale(0.91 1)" text-anchor="middle">X<tspan font-size="7.6" dy="4.2">3</tspan></text><text transform="translate(549.8 436.8) scale(0.91 1)" text-anchor="middle">X<tspan font-size="7.6" dy="4.2">4</tspan></text><text transform="translate(597.6 436.8) scale(0.91 1)" text-anchor="middle">X<tspan font-size="7.6" dy="4.2">5</tspan></text><text transform="translate(644.4 436.8) scale(0.91 1)" text-anchor="middle">P</text></g>
<g font-size="12.6"><circle cx="476.6" cy="358.8" r="2.6" fill="#000"/><text x="486" y="363.3">All subjects</text><circle cx="476.6" cy="373.9" r="2.6" fill="#22a022"/><text x="486" y="378.4">Control (arms at sides)</text><circle cx="476.6" cy="389.1" r="2.6" fill="#daa520"/><text x="486" y="393.6">Restraint 1 (hands behind back)</text><circle cx="476.6" cy="404.2" r="2.6" fill="#a020f0"/><text x="486" y="408.8">Restraint 2 (hands behind head)</text></g>
<text x="359.2" y="463.7" font-size="16.7" text-anchor="middle">Phase</text>
<text transform="translate(15.5 200.8) rotate(-90)" font-size="16.95" text-anchor="middle">Minute ventilation (relative)</text>
</svg>
</body></html>
